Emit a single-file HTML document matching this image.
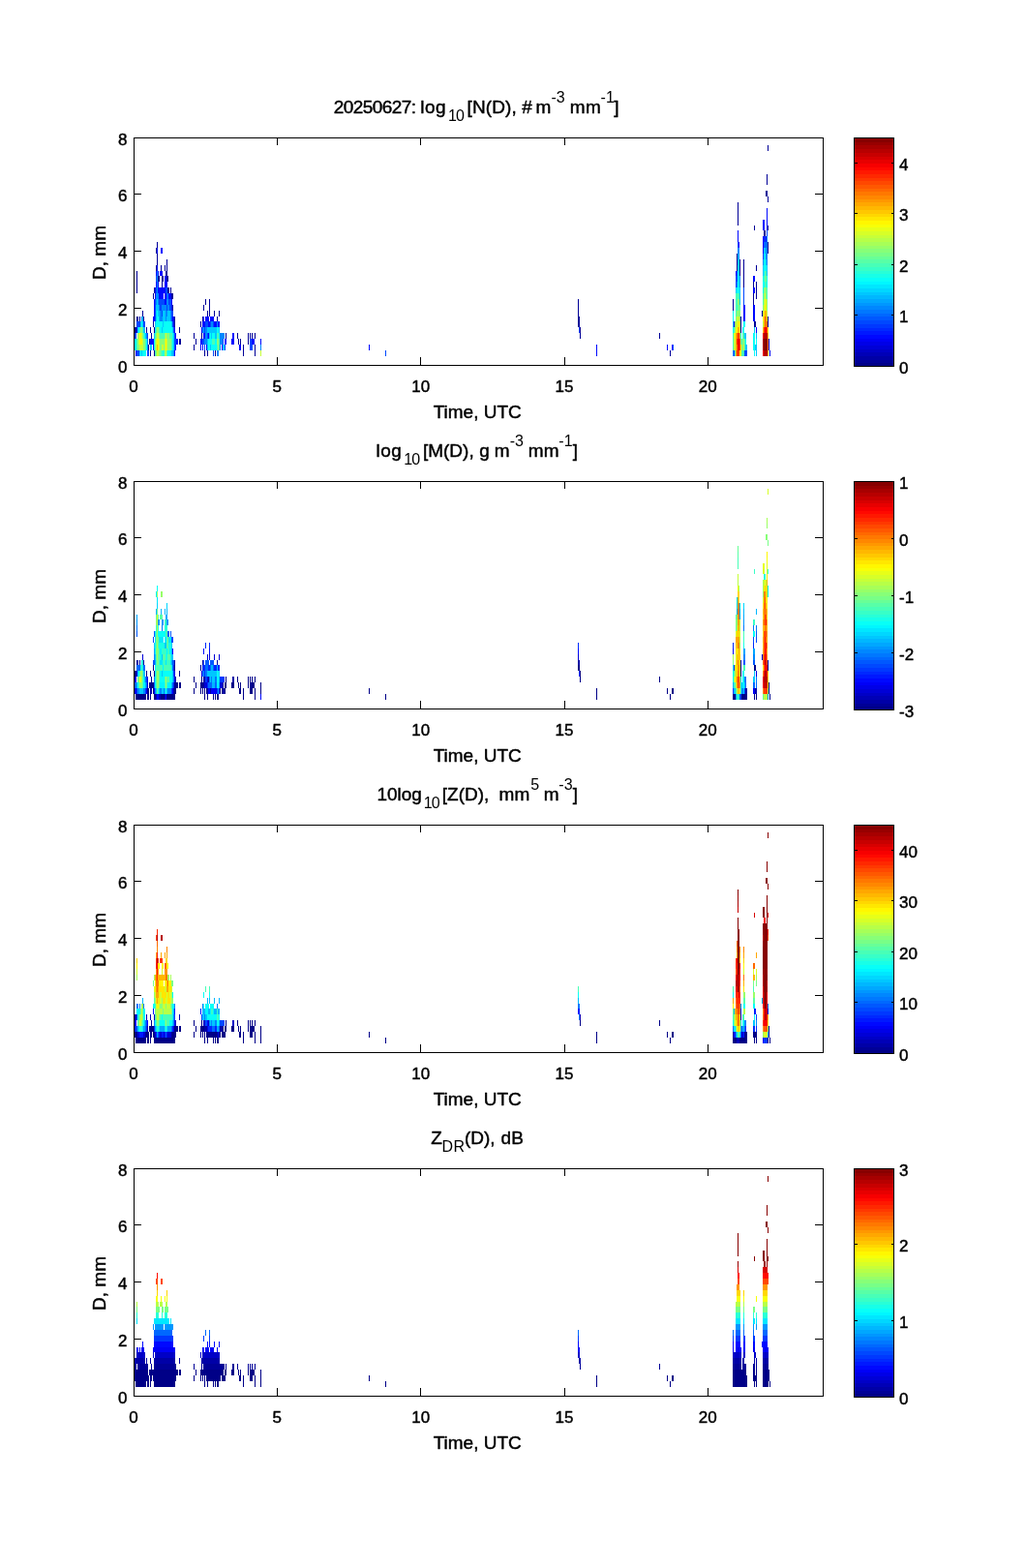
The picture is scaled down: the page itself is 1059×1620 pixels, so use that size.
<!DOCTYPE html>
<html lang="en"><head><meta charset="utf-8"><title>20250627 DSD</title>
<style>
html,body{margin:0;padding:0;background:#fff}
body{width:1059px;height:1620px;overflow:hidden}
svg{display:block}
text{font-family:"Liberation Sans", sans-serif;font-size:17px;fill:#000;stroke:#000;stroke-width:0.45px;stroke-linejoin:round}
.l{font-size:19px}
.s{font-size:16px;stroke-width:0}
.ax{fill:none;stroke:#000;stroke-width:1;shape-rendering:crispEdges}
.d{shape-rendering:crispEdges}
</style></head><body>
<svg width="1059" height="1620" viewBox="0 0 1059 1620">
<rect width="1059" height="1620" fill="#fff"/>
<g id="panel1">
<path class="d" fill="#000097" d="M139 338h1v6h-1zM140 338h1v6h-1zM141 327h1v5h-1zM141 280h1v23h-1zM142 327h1v5h-1zM144 327h1v5h-1zM147 321h1v6h-1zM148 327h1v5h-1zM151 338h1v6h-1zM153 356h1v6h-1zM154 350h1v6h-1zM155 362h1v6h-1zM155 338h1v6h-1zM156 344h1v6h-1zM158 332h1v6h-1zM158 303h1v6h-1zM159 362h1v6h-1zM159 338h1v6h-1zM159 297h1v6h-1zM161 274h1v6h-1zM161 256h1v6h-1zM162 262h1v12h-1zM162 250h1v6h-1zM163 285h1v6h-1zM164 285h1v6h-1zM166 274h1v6h-1zM167 285h1v12h-1zM168 285h1v6h-1zM170 274h1v6h-1zM171 280h1v5h-1zM172 268h1v23h-1zM173 297h1v6h-1zM173 285h1v6h-1zM174 297h1v6h-1zM176 297h1v6h-1zM177 303h1v6h-1zM178 315h1v6h-1zM178 303h1v6h-1zM180 327h1v11h-1zM185 350h1v6h-1zM185 338h1v6h-1zM186 350h1v6h-1zM200 356h1v6h-1zM200 344h1v6h-1zM202 350h1v6h-1zM207 332h1v6h-1zM208 344h1v6h-1zM209 327h1v5h-1zM210 315h1v6h-1zM211 362h1v6h-1zM212 309h1v6h-1zM214 362h1v6h-1zM214 321h1v6h-1zM216 309h1v18h-1zM221 321h1v6h-1zM222 362h1v6h-1zM224 327h1v5h-1zM226 321h1v6h-1zM233 344h1v6h-1zM245 344h1v6h-1zM246 350h1v6h-1zM248 350h1v6h-1zM251 356h1v12h-1zM256 344h1v12h-1zM258 344h1v6h-1zM260 344h1v6h-1zM263 356h1v12h-1zM263 344h1v6h-1zM597 309h1v29h-1zM598 327h1v11h-1zM599 338h1v12h-1zM681 344h1v6h-1zM692 362h1v6h-1zM757 309h1v12h-1zM761 262h1v18h-1zM762 209h1v24h-1zM764 268h1v17h-1zM765 327h1v17h-1zM768 268h1v29h-1zM778 303h1v12h-1zM778 291h1v6h-1zM779 332h1v6h-1zM779 233h1v5h-1zM780 332h1v6h-1zM781 291h1v18h-1zM781 274h1v6h-1zM787 321h1v6h-1zM789 238h1v6h-1zM790 238h1v6h-1zM791 197h1v6h-1zM792 197h1v6h-1zM792 180h1v11h-1zM793 327h1v11h-1zM793 250h1v12h-1zM793 233h1v5h-1zM793 203h1v6h-1zM793 150h1v6h-1z"/>
<path class="d" fill="#0008ff" d="M140 362h1v6h-1zM141 338h1v6h-1zM155 350h1v6h-1zM156 350h1v6h-1zM157 350h1v6h-1zM158 350h1v12h-1zM158 327h1v5h-1zM159 309h1v23h-1zM160 297h1v12h-1zM161 291h1v6h-1zM161 280h1v5h-1zM162 274h1v6h-1zM162 256h1v6h-1zM163 291h1v12h-1zM163 280h1v5h-1zM164 297h1v12h-1zM165 297h1v12h-1zM165 280h1v5h-1zM166 297h1v12h-1zM166 280h1v5h-1zM166 256h1v6h-1zM167 297h1v12h-1zM167 280h1v5h-1zM167 256h1v6h-1zM168 297h1v12h-1zM169 297h1v6h-1zM170 285h1v30h-1zM171 303h1v12h-1zM171 285h1v12h-1zM172 291h1v6h-1zM174 303h1v6h-1zM175 303h1v6h-1zM176 303h1v6h-1zM177 309h1v12h-1zM178 327h1v5h-1zM179 327h1v11h-1zM180 362h1v6h-1zM180 338h1v6h-1zM181 356h1v6h-1zM181 344h1v6h-1zM182 350h1v6h-1zM183 350h1v6h-1zM207 350h1v12h-1zM208 350h1v6h-1zM208 338h1v6h-1zM209 356h1v6h-1zM209 332h1v6h-1zM210 344h1v6h-1zM210 327h1v11h-1zM211 344h1v6h-1zM211 332h1v6h-1zM212 327h1v5h-1zM213 356h1v6h-1zM213 327h1v5h-1zM214 327h1v5h-1zM215 344h1v6h-1zM215 327h1v11h-1zM216 332h1v6h-1zM217 327h1v5h-1zM218 327h1v5h-1zM219 327h1v5h-1zM220 327h1v5h-1zM221 332h1v6h-1zM222 332h1v6h-1zM223 332h1v6h-1zM225 332h1v6h-1zM226 332h1v6h-1zM229 356h1v6h-1zM232 350h1v6h-1zM233 350h1v6h-1zM239 350h1v6h-1zM240 344h1v12h-1zM241 344h1v12h-1zM247 356h1v6h-1zM248 356h1v6h-1zM260 350h1v6h-1zM261 350h1v6h-1zM262 350h1v6h-1zM269 350h1v6h-1zM381 356h1v6h-1zM616 356h1v12h-1zM689 356h1v6h-1zM694 356h1v6h-1zM758 332h1v6h-1zM760 280h1v5h-1zM762 238h1v12h-1zM763 250h1v6h-1zM768 315h1v17h-1zM769 315h1v17h-1zM778 315h1v17h-1zM778 297h1v6h-1zM778 285h1v6h-1zM779 315h1v17h-1zM779 297h1v6h-1zM779 285h1v6h-1zM781 338h1v6h-1zM788 244h1v18h-1zM788 227h1v11h-1zM789 244h1v6h-1zM789 227h1v11h-1zM791 244h1v6h-1zM792 215h1v23h-1zM794 350h1v12h-1zM795 362h1v6h-1z"/>
<path class="d" fill="#0048ff" d="M139 344h1v6h-1zM140 344h1v6h-1zM141 362h1v6h-1zM141 332h1v6h-1zM142 362h1v6h-1zM142 332h1v6h-1zM143 362h1v6h-1zM143 332h1v6h-1zM144 332h1v6h-1zM148 332h1v6h-1zM149 332h1v6h-1zM152 362h1v6h-1zM152 344h1v6h-1zM153 362h1v6h-1zM160 309h1v23h-1zM161 297h1v6h-1zM161 285h1v6h-1zM164 309h1v6h-1zM165 309h1v12h-1zM166 309h1v12h-1zM167 321h1v6h-1zM167 309h1v6h-1zM168 309h1v6h-1zM169 309h1v6h-1zM171 297h1v6h-1zM172 315h1v6h-1zM172 297h1v12h-1zM174 309h1v6h-1zM175 309h1v12h-1zM176 309h1v12h-1zM177 321h1v11h-1zM178 332h1v6h-1zM178 321h1v6h-1zM179 338h1v6h-1zM180 344h1v18h-1zM181 350h1v6h-1zM209 350h1v6h-1zM210 350h1v6h-1zM211 356h1v6h-1zM211 338h1v6h-1zM212 332h1v6h-1zM213 332h1v6h-1zM214 344h1v6h-1zM214 332h1v6h-1zM217 332h1v6h-1zM220 362h1v6h-1zM220 332h1v6h-1zM230 350h1v6h-1zM232 356h1v6h-1zM258 350h1v12h-1zM259 350h1v12h-1zM260 356h1v6h-1zM398 362h1v6h-1zM598 338h1v6h-1zM695 356h1v6h-1zM758 362h1v6h-1zM760 285h1v12h-1zM761 280h1v11h-1zM762 250h1v6h-1zM768 297h1v18h-1zM769 362h1v6h-1zM770 362h1v6h-1zM771 362h1v6h-1zM788 262h1v6h-1zM789 250h1v6h-1zM790 244h1v6h-1zM791 250h1v6h-1zM792 238h1v6h-1z"/>
<path class="d" fill="#0087ff" d="M146 327h1v5h-1zM151 344h1v6h-1zM152 350h1v12h-1zM161 303h1v12h-1zM162 280h1v29h-1zM163 303h1v12h-1zM164 315h1v6h-1zM165 321h1v11h-1zM166 321h1v11h-1zM167 327h1v5h-1zM167 315h1v6h-1zM168 315h1v6h-1zM169 315h1v6h-1zM170 315h1v6h-1zM171 315h1v17h-1zM172 321h1v6h-1zM172 309h1v6h-1zM173 303h1v18h-1zM174 315h1v6h-1zM176 321h1v11h-1zM179 362h1v6h-1zM209 338h1v6h-1zM210 338h1v6h-1zM211 350h1v6h-1zM212 338h1v18h-1zM213 338h1v18h-1zM218 332h1v6h-1zM219 332h1v6h-1zM224 362h1v6h-1zM224 332h1v6h-1zM225 362h1v6h-1zM227 344h1v18h-1zM228 344h1v12h-1zM229 344h1v12h-1zM230 344h1v6h-1zM231 344h1v6h-1zM269 356h1v6h-1zM757 362h1v6h-1zM761 291h1v6h-1zM762 256h1v6h-1zM763 256h1v12h-1zM764 285h1v12h-1zM788 268h1v6h-1zM790 250h1v6h-1zM791 256h1v12h-1zM792 244h1v30h-1z"/>
<path class="d" fill="#00c7ff" d="M142 338h1v6h-1zM144 362h1v6h-1zM145 332h1v6h-1zM146 362h1v6h-1zM147 327h1v11h-1zM148 338h1v6h-1zM149 338h1v6h-1zM150 344h1v6h-1zM155 356h1v6h-1zM156 356h1v6h-1zM159 344h1v6h-1zM160 332h1v6h-1zM161 315h1v17h-1zM162 309h1v12h-1zM163 315h1v12h-1zM164 321h1v11h-1zM167 338h1v6h-1zM168 321h1v17h-1zM169 321h1v11h-1zM170 321h1v11h-1zM172 327h1v5h-1zM173 321h1v11h-1zM174 321h1v11h-1zM175 321h1v11h-1zM177 362h1v6h-1zM177 332h1v6h-1zM178 362h1v6h-1zM178 338h1v6h-1zM179 344h1v18h-1zM214 350h1v12h-1zM214 338h1v6h-1zM215 338h1v6h-1zM216 338h1v12h-1zM217 356h1v6h-1zM217 338h1v6h-1zM218 338h1v12h-1zM219 338h1v6h-1zM220 338h1v6h-1zM221 338h1v6h-1zM222 338h1v12h-1zM223 338h1v12h-1zM226 338h1v6h-1zM230 356h1v6h-1zM231 356h1v6h-1zM757 332h1v6h-1zM760 297h1v6h-1zM762 262h1v12h-1zM764 297h1v18h-1zM769 344h1v6h-1zM770 356h1v6h-1zM770 344h1v6h-1zM771 356h1v6h-1zM779 338h1v6h-1zM780 356h1v6h-1zM781 356h1v12h-1zM781 344h1v6h-1zM788 274h1v11h-1zM789 256h1v12h-1zM790 256h1v6h-1zM791 268h1v6h-1zM792 274h1v11h-1z"/>
<path class="d" fill="#08fff7" d="M139 350h1v12h-1zM140 350h1v12h-1zM143 338h1v6h-1zM145 362h1v6h-1zM146 332h1v6h-1zM147 362h1v6h-1zM148 362h1v6h-1zM149 362h1v6h-1zM149 344h1v6h-1zM150 362h1v6h-1zM151 350h1v12h-1zM159 350h1v12h-1zM160 338h1v6h-1zM161 332h1v6h-1zM162 321h1v17h-1zM163 327h1v11h-1zM164 332h1v6h-1zM165 332h1v12h-1zM166 332h1v12h-1zM167 332h1v6h-1zM168 362h1v6h-1zM168 338h1v6h-1zM169 332h1v12h-1zM170 332h1v12h-1zM171 332h1v12h-1zM172 332h1v12h-1zM173 362h1v6h-1zM173 332h1v12h-1zM174 362h1v6h-1zM174 332h1v12h-1zM175 362h1v6h-1zM175 332h1v12h-1zM176 362h1v6h-1zM176 332h1v12h-1zM177 338h1v6h-1zM178 344h1v18h-1zM215 350h1v12h-1zM216 350h1v12h-1zM217 344h1v12h-1zM218 350h1v12h-1zM219 356h1v6h-1zM219 344h1v6h-1zM220 356h1v6h-1zM220 344h1v6h-1zM221 356h1v6h-1zM221 344h1v6h-1zM222 350h1v12h-1zM223 350h1v12h-1zM224 338h1v6h-1zM225 338h1v6h-1zM226 344h1v6h-1zM757 338h1v6h-1zM757 321h1v11h-1zM761 297h1v6h-1zM762 274h1v29h-1zM763 268h1v35h-1zM765 344h1v6h-1zM767 338h1v6h-1zM768 332h1v12h-1zM769 332h1v6h-1zM770 350h1v6h-1zM778 344h1v18h-1zM779 344h1v24h-1zM781 350h1v6h-1zM788 285h1v18h-1zM789 291h1v6h-1zM789 268h1v17h-1zM790 262h1v18h-1zM791 274h1v6h-1zM792 285h1v12h-1z"/>
<path class="d" fill="#48ffb7" d="M141 350h1v12h-1zM144 338h1v6h-1zM147 338h1v6h-1zM148 344h1v6h-1zM150 350h1v12h-1zM160 362h1v6h-1zM160 344h1v6h-1zM161 338h1v6h-1zM164 338h1v6h-1zM165 344h1v6h-1zM166 362h1v6h-1zM166 344h1v6h-1zM167 362h1v6h-1zM167 344h1v6h-1zM168 344h1v6h-1zM169 362h1v6h-1zM169 344h1v6h-1zM172 362h1v6h-1zM175 344h1v6h-1zM176 344h1v6h-1zM177 344h1v18h-1zM219 350h1v6h-1zM220 350h1v6h-1zM221 350h1v6h-1zM224 356h1v6h-1zM224 344h1v6h-1zM225 344h1v6h-1zM226 350h1v12h-1zM757 344h1v18h-1zM758 338h1v6h-1zM759 362h1v6h-1zM760 303h1v24h-1zM761 303h1v18h-1zM762 315h1v6h-1zM762 303h1v6h-1zM763 303h1v6h-1zM764 315h1v6h-1zM766 362h1v6h-1zM766 350h1v6h-1zM767 362h1v6h-1zM767 344h1v6h-1zM768 362h1v6h-1zM768 344h1v6h-1zM769 350h1v12h-1zM788 303h1v12h-1zM789 285h1v6h-1zM790 280h1v17h-1zM791 291h1v6h-1zM791 280h1v5h-1zM792 297h1v12h-1z"/>
<path class="d" fill="#870000" d="M789 350h1v12h-1zM790 350h1v12h-1zM791 350h1v12h-1zM792 350h1v12h-1z"/>
<path class="d" fill="#87ff78" d="M142 344h1v18h-1zM143 356h1v6h-1zM145 338h1v6h-1zM146 338h1v6h-1zM147 344h1v6h-1zM148 350h1v12h-1zM149 350h1v12h-1zM160 350h1v12h-1zM161 362h1v6h-1zM161 344h1v6h-1zM162 338h1v6h-1zM163 338h1v6h-1zM164 362h1v6h-1zM164 344h1v6h-1zM165 350h1v18h-1zM166 350h1v12h-1zM167 350h1v6h-1zM168 350h1v6h-1zM169 350h1v12h-1zM170 362h1v6h-1zM170 344h1v6h-1zM172 344h1v6h-1zM173 344h1v18h-1zM174 344h1v18h-1zM175 350h1v12h-1zM176 350h1v12h-1zM224 350h1v6h-1zM225 350h1v12h-1zM759 332h1v12h-1zM760 327h1v5h-1zM761 321h1v6h-1zM762 321h1v6h-1zM762 309h1v6h-1zM763 309h1v18h-1zM764 321h1v11h-1zM765 350h1v6h-1zM766 356h1v6h-1zM767 350h1v12h-1zM768 350h1v6h-1zM788 315h1v6h-1zM789 297h1v12h-1zM790 297h1v6h-1zM791 297h1v12h-1zM791 285h1v6h-1zM792 309h1v12h-1z"/>
<path class="d" fill="#b70000" d="M788 350h1v12h-1zM789 362h1v6h-1zM789 344h1v6h-1zM790 362h1v6h-1zM790 344h1v6h-1zM791 362h1v6h-1zM791 344h1v6h-1zM792 362h1v6h-1zM792 344h1v6h-1z"/>
<path class="d" fill="#c7ff38" d="M143 344h1v12h-1zM144 356h1v6h-1zM145 356h1v6h-1zM146 356h1v6h-1zM146 344h1v6h-1zM147 350h1v12h-1zM161 350h1v12h-1zM162 362h1v6h-1zM162 344h1v6h-1zM163 362h1v6h-1zM163 344h1v6h-1zM164 350h1v12h-1zM167 356h1v6h-1zM168 356h1v6h-1zM170 350h1v12h-1zM171 362h1v6h-1zM171 344h1v6h-1zM172 350h1v12h-1zM269 362h1v6h-1zM758 344h1v18h-1zM759 350h1v12h-1zM760 332h1v6h-1zM761 327h1v11h-1zM762 327h1v5h-1zM763 327h1v5h-1zM764 332h1v12h-1zM768 356h1v6h-1zM788 332h1v6h-1zM788 321h1v6h-1zM789 309h1v12h-1zM790 303h1v12h-1zM792 321h1v6h-1z"/>
<path class="d" fill="#f70000" d="M762 350h1v12h-1zM763 350h1v12h-1zM788 362h1v6h-1zM788 344h1v6h-1zM790 338h1v6h-1zM791 338h1v6h-1z"/>
<path class="d" fill="#ff3800" d="M761 362h1v6h-1zM761 350h1v6h-1zM762 362h1v6h-1zM762 344h1v6h-1zM763 362h1v6h-1zM763 344h1v6h-1zM764 350h1v12h-1zM789 338h1v6h-1zM792 338h1v6h-1z"/>
<path class="d" fill="#ff7800" d="M761 356h1v6h-1zM761 344h1v6h-1zM790 327h1v11h-1zM791 327h1v11h-1zM792 332h1v6h-1zM793 350h1v12h-1z"/>
<path class="d" fill="#ffb700" d="M162 356h1v6h-1zM760 344h1v24h-1zM762 338h1v6h-1zM763 338h1v6h-1zM764 344h1v6h-1zM788 338h1v6h-1zM789 327h1v11h-1zM790 321h1v6h-1zM791 321h1v6h-1zM793 362h1v6h-1zM793 344h1v6h-1z"/>
<path class="d" fill="#fff700" d="M144 344h1v12h-1zM145 344h1v12h-1zM146 350h1v6h-1zM162 350h1v6h-1zM163 350h1v12h-1zM171 350h1v12h-1zM759 344h1v6h-1zM760 338h1v6h-1zM761 338h1v6h-1zM762 332h1v6h-1zM763 332h1v6h-1zM764 362h1v6h-1zM765 356h1v12h-1zM788 327h1v5h-1zM789 321h1v6h-1zM790 315h1v6h-1zM791 309h1v12h-1zM792 327h1v5h-1zM793 338h1v6h-1z"/>
<rect class="ax" x="138.5" y="142.5" width="712" height="235"/>
<path class="ax" d="M286.5 377.5V369M286.5 142.5V150M434.5 377.5V369M434.5 142.5V150M583.5 377.5V369M583.5 142.5V150M731.5 377.5V369M731.5 142.5V150M138.5 318.5H146M850.5 318.5H842M138.5 259.5H146M850.5 259.5H842M138.5 200.5H146M850.5 200.5H842"/>
<text x="138" y="404.8" text-anchor="middle">0</text><text x="286.333" y="404.8" text-anchor="middle">5</text><text x="434.667" y="404.8" text-anchor="middle">10</text><text x="583" y="404.8" text-anchor="middle">15</text><text x="731.333" y="404.8" text-anchor="middle">20</text>
<text x="131.5" y="385.4" text-anchor="end">0</text><text x="131.5" y="326.4" text-anchor="end">2</text><text x="131.5" y="267.4" text-anchor="end">4</text><text x="131.5" y="208.4" text-anchor="end">6</text><text x="131.5" y="150.4" text-anchor="end">8</text>
<text class="l" x="493.2" y="431.5" text-anchor="middle">Time, UTC</text>
<text class="l" transform="translate(109 261) rotate(-90)" text-anchor="middle">D, mm</text>
<text class="l"><tspan class="l" x="344.70" y="116.90" letter-spacing="-0.56">20250627:</tspan><tspan class="l" x="434.25" y="116.90" letter-spacing="0.5">log</tspan><tspan class="s" x="462.95" y="125.30" letter-spacing="-0.9">10</tspan><tspan class="l" x="482.55" y="116.90" letter-spacing="0.1">[N(D),</tspan><tspan class="l" x="539.20" y="116.90">#</tspan><tspan class="l" x="553.55" y="116.90">m</tspan><tspan class="s" x="569.45" y="105.60">-3</tspan><tspan class="l" x="588.75" y="116.90" letter-spacing="0.3">mm</tspan><tspan class="s" x="620.55" y="105.60">-1</tspan><tspan class="l" x="634.15" y="116.90">]</tspan></text>
<rect class="d" x="882.5" y="374.81" width="41" height="4.29" fill="#000087"/><rect class="d" x="882.5" y="371.12" width="41" height="4.29" fill="#000097"/><rect class="d" x="882.5" y="367.44" width="41" height="4.29" fill="#0000a7"/><rect class="d" x="882.5" y="363.75" width="41" height="4.29" fill="#0000b7"/><rect class="d" x="882.5" y="360.06" width="41" height="4.29" fill="#0000c7"/><rect class="d" x="882.5" y="356.38" width="41" height="4.29" fill="#0000d7"/><rect class="d" x="882.5" y="352.69" width="41" height="4.29" fill="#0000e7"/><rect class="d" x="882.5" y="349.00" width="41" height="4.29" fill="#0000f7"/><rect class="d" x="882.5" y="345.31" width="41" height="4.29" fill="#0008ff"/><rect class="d" x="882.5" y="341.62" width="41" height="4.29" fill="#0018ff"/><rect class="d" x="882.5" y="337.94" width="41" height="4.29" fill="#0028ff"/><rect class="d" x="882.5" y="334.25" width="41" height="4.29" fill="#0038ff"/><rect class="d" x="882.5" y="330.56" width="41" height="4.29" fill="#0048ff"/><rect class="d" x="882.5" y="326.88" width="41" height="4.29" fill="#0058ff"/><rect class="d" x="882.5" y="323.19" width="41" height="4.29" fill="#0068ff"/><rect class="d" x="882.5" y="319.50" width="41" height="4.29" fill="#0078ff"/><rect class="d" x="882.5" y="315.81" width="41" height="4.29" fill="#0087ff"/><rect class="d" x="882.5" y="312.12" width="41" height="4.29" fill="#0097ff"/><rect class="d" x="882.5" y="308.44" width="41" height="4.29" fill="#00a7ff"/><rect class="d" x="882.5" y="304.75" width="41" height="4.29" fill="#00b7ff"/><rect class="d" x="882.5" y="301.06" width="41" height="4.29" fill="#00c7ff"/><rect class="d" x="882.5" y="297.38" width="41" height="4.29" fill="#00d7ff"/><rect class="d" x="882.5" y="293.69" width="41" height="4.29" fill="#00e7ff"/><rect class="d" x="882.5" y="290.00" width="41" height="4.29" fill="#00f7ff"/><rect class="d" x="882.5" y="286.31" width="41" height="4.29" fill="#08fff7"/><rect class="d" x="882.5" y="282.62" width="41" height="4.29" fill="#18ffe7"/><rect class="d" x="882.5" y="278.94" width="41" height="4.29" fill="#28ffd7"/><rect class="d" x="882.5" y="275.25" width="41" height="4.29" fill="#38ffc7"/><rect class="d" x="882.5" y="271.56" width="41" height="4.29" fill="#48ffb7"/><rect class="d" x="882.5" y="267.88" width="41" height="4.29" fill="#58ffa7"/><rect class="d" x="882.5" y="264.19" width="41" height="4.29" fill="#68ff97"/><rect class="d" x="882.5" y="260.50" width="41" height="4.29" fill="#78ff87"/><rect class="d" x="882.5" y="256.81" width="41" height="4.29" fill="#87ff78"/><rect class="d" x="882.5" y="253.12" width="41" height="4.29" fill="#97ff68"/><rect class="d" x="882.5" y="249.44" width="41" height="4.29" fill="#a7ff58"/><rect class="d" x="882.5" y="245.75" width="41" height="4.29" fill="#b7ff48"/><rect class="d" x="882.5" y="242.06" width="41" height="4.29" fill="#c7ff38"/><rect class="d" x="882.5" y="238.38" width="41" height="4.29" fill="#d7ff28"/><rect class="d" x="882.5" y="234.69" width="41" height="4.29" fill="#e7ff18"/><rect class="d" x="882.5" y="231.00" width="41" height="4.29" fill="#f7ff08"/><rect class="d" x="882.5" y="227.31" width="41" height="4.29" fill="#fff700"/><rect class="d" x="882.5" y="223.62" width="41" height="4.29" fill="#ffe700"/><rect class="d" x="882.5" y="219.94" width="41" height="4.29" fill="#ffd700"/><rect class="d" x="882.5" y="216.25" width="41" height="4.29" fill="#ffc700"/><rect class="d" x="882.5" y="212.56" width="41" height="4.29" fill="#ffb700"/><rect class="d" x="882.5" y="208.88" width="41" height="4.29" fill="#ffa700"/><rect class="d" x="882.5" y="205.19" width="41" height="4.29" fill="#ff9700"/><rect class="d" x="882.5" y="201.50" width="41" height="4.29" fill="#ff8700"/><rect class="d" x="882.5" y="197.81" width="41" height="4.29" fill="#ff7800"/><rect class="d" x="882.5" y="194.12" width="41" height="4.29" fill="#ff6800"/><rect class="d" x="882.5" y="190.44" width="41" height="4.29" fill="#ff5800"/><rect class="d" x="882.5" y="186.75" width="41" height="4.29" fill="#ff4800"/><rect class="d" x="882.5" y="183.06" width="41" height="4.29" fill="#ff3800"/><rect class="d" x="882.5" y="179.38" width="41" height="4.29" fill="#ff2800"/><rect class="d" x="882.5" y="175.69" width="41" height="4.29" fill="#ff1800"/><rect class="d" x="882.5" y="172.00" width="41" height="4.29" fill="#ff0800"/><rect class="d" x="882.5" y="168.31" width="41" height="4.29" fill="#f70000"/><rect class="d" x="882.5" y="164.62" width="41" height="4.29" fill="#e70000"/><rect class="d" x="882.5" y="160.94" width="41" height="4.29" fill="#d70000"/><rect class="d" x="882.5" y="157.25" width="41" height="4.29" fill="#c70000"/><rect class="d" x="882.5" y="153.56" width="41" height="4.29" fill="#b70000"/><rect class="d" x="882.5" y="149.88" width="41" height="4.29" fill="#a70000"/><rect class="d" x="882.5" y="146.19" width="41" height="4.29" fill="#970000"/><rect class="d" x="882.5" y="142.50" width="41" height="4.29" fill="#870000"/>
<rect class="ax" x="882.5" y="142.5" width="41" height="236"/>
<text x="929" y="386.3">0</text><text x="929" y="333.3">1</text><text x="929" y="281.3">2</text><text x="929" y="228.3">3</text><text x="929" y="176.3">4</text>
<path class="ax" d="M882.5 325.5h3M923.5 325.5h-3M882.5 273.5h3M923.5 273.5h-3M882.5 220.5h3M923.5 220.5h-3M882.5 168.5h3M923.5 168.5h-3"/>
</g>
<g id="panel2">
<path class="d" fill="#000087" d="M139 693h1v6h-1zM140 717h1v6h-1zM140 693h1v6h-1zM141 717h1v6h-1zM142 717h1v6h-1zM143 717h1v6h-1zM144 717h1v6h-1zM145 717h1v6h-1zM146 717h1v6h-1zM147 717h1v6h-1zM148 717h1v6h-1zM149 717h1v6h-1zM150 717h1v6h-1zM151 693h1v6h-1zM152 711h1v12h-1zM153 711h1v12h-1zM154 705h1v6h-1zM155 717h1v6h-1zM155 705h1v6h-1zM155 693h1v6h-1zM156 699h1v12h-1zM157 705h1v6h-1zM158 705h1v12h-1zM158 687h1v6h-1zM159 717h1v6h-1zM159 693h1v6h-1zM160 717h1v6h-1zM166 717h1v6h-1zM167 717h1v6h-1zM168 717h1v6h-1zM169 717h1v6h-1zM172 717h1v6h-1zM173 717h1v6h-1zM174 717h1v6h-1zM175 717h1v6h-1zM176 717h1v6h-1zM177 717h1v6h-1zM178 717h1v6h-1zM179 717h1v6h-1zM180 711h1v12h-1zM180 687h1v6h-1zM181 711h1v6h-1zM182 705h1v6h-1zM183 705h1v6h-1zM185 705h1v6h-1zM185 693h1v6h-1zM186 705h1v6h-1zM200 711h1v6h-1zM200 699h1v6h-1zM202 705h1v6h-1zM207 705h1v12h-1zM207 687h1v6h-1zM208 699h1v12h-1zM209 711h1v6h-1zM211 711h1v12h-1zM213 711h1v6h-1zM214 717h1v6h-1zM220 717h1v6h-1zM222 717h1v6h-1zM224 717h1v6h-1zM225 717h1v6h-1zM227 711h1v6h-1zM229 711h1v6h-1zM232 705h1v12h-1zM233 699h1v12h-1zM239 705h1v6h-1zM240 705h1v6h-1zM241 705h1v6h-1zM245 699h1v6h-1zM246 705h1v6h-1zM247 711h1v6h-1zM248 705h1v12h-1zM251 711h1v12h-1zM256 699h1v12h-1zM258 711h1v6h-1zM258 699h1v6h-1zM259 711h1v6h-1zM260 699h1v18h-1zM261 705h1v6h-1zM262 705h1v6h-1zM263 711h1v12h-1zM263 699h1v6h-1zM269 705h1v12h-1zM381 711h1v6h-1zM398 717h1v6h-1zM597 687h1v6h-1zM598 687h1v6h-1zM599 693h1v12h-1zM616 711h1v12h-1zM681 699h1v6h-1zM689 711h1v6h-1zM692 717h1v6h-1zM694 711h1v6h-1zM695 711h1v6h-1zM757 717h1v6h-1zM758 717h1v6h-1zM759 717h1v6h-1zM765 687h1v12h-1zM766 717h1v6h-1zM767 717h1v6h-1zM768 717h1v6h-1zM769 717h1v6h-1zM770 717h1v6h-1zM771 717h1v6h-1zM779 717h1v6h-1zM779 687h1v6h-1zM780 687h1v6h-1zM781 717h1v6h-1zM793 687h1v6h-1zM794 705h1v12h-1zM795 717h1v6h-1z"/>
<path class="d" fill="#000097" d="M180 705h1v6h-1zM181 705h1v6h-1zM209 705h1v6h-1zM210 705h1v6h-1zM230 705h1v6h-1zM258 705h1v6h-1zM259 705h1v6h-1z"/>
<path class="d" fill="#0000a7" d="M141 682h1v5h-1zM142 682h1v5h-1zM144 682h1v5h-1zM148 682h1v5h-1zM155 711h1v6h-1zM156 711h1v6h-1zM179 711h1v6h-1zM180 682h1v5h-1zM181 699h1v6h-1zM209 682h1v5h-1zM210 699h1v6h-1zM211 699h1v6h-1zM214 711h1v6h-1zM215 699h1v6h-1zM217 711h1v6h-1zM224 682h1v5h-1zM230 711h1v6h-1zM231 711h1v6h-1zM240 699h1v6h-1zM241 699h1v6h-1zM597 682h1v5h-1zM598 682h1v5h-1zM765 682h1v5h-1zM770 711h1v6h-1zM771 711h1v6h-1zM780 711h1v6h-1zM781 711h1v6h-1zM793 682h1v5h-1z"/>
<path class="d" fill="#0000b7" d="M161 717h1v6h-1zM164 717h1v6h-1zM165 717h1v6h-1zM170 717h1v6h-1z"/>
<path class="d" fill="#0000d7" d="M147 676h1v6h-1zM152 705h1v6h-1zM211 705h1v6h-1zM212 705h1v6h-1zM213 705h1v6h-1zM214 676h1v6h-1zM216 676h1v6h-1zM221 676h1v6h-1zM226 676h1v6h-1zM227 705h1v6h-1zM228 705h1v6h-1zM229 705h1v6h-1zM597 676h1v6h-1zM787 676h1v6h-1z"/>
<path class="d" fill="#0000e7" d="M139 699h1v6h-1zM140 699h1v6h-1zM141 693h1v6h-1zM152 699h1v6h-1zM180 693h1v12h-1zM208 693h1v6h-1zM214 699h1v6h-1zM781 693h1v6h-1z"/>
<path class="d" fill="#0000f7" d="M139 711h1v6h-1zM140 711h1v6h-1zM151 711h1v6h-1zM159 711h1v6h-1zM178 711h1v6h-1zM215 711h1v6h-1zM216 711h1v6h-1zM218 711h1v6h-1zM219 711h1v6h-1zM220 711h1v6h-1zM221 711h1v6h-1zM222 711h1v6h-1zM223 711h1v6h-1zM778 711h1v6h-1zM779 711h1v6h-1z"/>
<path class="d" fill="#0008ff" d="M162 717h1v6h-1zM163 717h1v6h-1zM171 717h1v6h-1zM178 670h1v6h-1zM210 670h1v6h-1zM216 670h1v6h-1zM269 717h1v6h-1zM597 670h1v6h-1zM757 670h1v6h-1z"/>
<path class="d" fill="#0028ff" d="M179 705h1v6h-1zM179 687h1v6h-1zM209 687h1v6h-1zM210 687h1v6h-1zM211 687h1v6h-1zM212 664h1v6h-1zM214 705h1v6h-1zM215 687h1v6h-1zM216 687h1v6h-1zM216 664h1v6h-1zM221 687h1v6h-1zM222 687h1v6h-1zM223 687h1v6h-1zM225 687h1v6h-1zM226 687h1v6h-1zM597 664h1v6h-1zM757 664h1v6h-1zM758 687h1v6h-1zM778 664h1v6h-1z"/>
<path class="d" fill="#0038ff" d="M141 711h1v6h-1zM150 711h1v6h-1zM151 699h1v6h-1zM177 711h1v6h-1zM179 693h1v6h-1zM211 693h1v6h-1zM212 699h1v6h-1zM213 699h1v6h-1zM224 711h1v6h-1zM226 711h1v6h-1zM227 699h1v6h-1zM228 699h1v6h-1zM229 699h1v6h-1zM230 699h1v6h-1zM231 699h1v6h-1zM598 693h1v6h-1zM757 711h1v6h-1zM769 711h1v6h-1z"/>
<path class="d" fill="#0048ff" d="M158 658h1v6h-1zM177 658h1v6h-1zM178 658h1v6h-1zM764 717h1v6h-1zM765 717h1v6h-1zM778 658h1v6h-1zM781 658h1v6h-1z"/>
<path class="d" fill="#0058ff" d="M141 652h1v6h-1zM158 682h1v5h-1zM159 682h1v5h-1zM159 652h1v6h-1zM173 652h1v6h-1zM174 652h1v6h-1zM176 652h1v6h-1zM178 682h1v5h-1zM179 682h1v5h-1zM210 682h1v5h-1zM212 682h1v5h-1zM213 682h1v5h-1zM214 682h1v5h-1zM215 682h1v5h-1zM217 682h1v5h-1zM218 682h1v5h-1zM219 682h1v5h-1zM220 682h1v5h-1zM768 682h1v5h-1zM769 682h1v5h-1zM778 682h1v5h-1zM779 682h1v5h-1zM781 652h1v6h-1z"/>
<path class="d" fill="#0068ff" d="M139 705h1v6h-1zM140 705h1v6h-1zM141 687h1v6h-1zM142 687h1v6h-1zM143 687h1v6h-1zM144 687h1v6h-1zM148 687h1v6h-1zM149 687h1v6h-1zM151 705h1v6h-1zM159 705h1v6h-1zM178 705h1v6h-1zM178 687h1v6h-1zM212 687h1v6h-1zM213 687h1v6h-1zM214 687h1v6h-1zM215 705h1v6h-1zM216 705h1v6h-1zM217 705h1v6h-1zM217 687h1v6h-1zM218 705h1v6h-1zM220 687h1v6h-1zM222 705h1v6h-1zM223 705h1v6h-1zM770 705h1v6h-1zM778 705h1v6h-1zM779 705h1v6h-1zM781 705h1v6h-1z"/>
<path class="d" fill="#0078ff" d="M141 646h1v6h-1zM150 699h1v6h-1zM159 699h1v6h-1zM167 646h1v6h-1zM179 699h1v6h-1zM209 693h1v6h-1zM210 693h1v6h-1zM212 693h1v6h-1zM213 693h1v6h-1zM216 699h1v6h-1zM218 699h1v6h-1zM222 699h1v6h-1zM223 699h1v6h-1zM768 646h1v6h-1zM769 699h1v6h-1zM770 699h1v6h-1zM778 646h1v6h-1zM781 699h1v6h-1zM781 646h1v6h-1z"/>
<path class="d" fill="#0087ff" d="M142 711h1v6h-1zM143 711h1v6h-1zM148 711h1v6h-1zM149 711h1v6h-1zM159 676h1v6h-1zM160 711h1v6h-1zM165 711h1v6h-1zM166 711h1v6h-1zM169 711h1v6h-1zM173 711h1v6h-1zM174 711h1v6h-1zM175 711h1v6h-1zM176 711h1v6h-1zM225 711h1v6h-1zM766 711h1v6h-1zM767 711h1v6h-1zM768 676h1v6h-1zM769 676h1v6h-1zM778 676h1v6h-1zM779 676h1v6h-1z"/>
<path class="d" fill="#0097ff" d="M141 640h1v6h-1zM163 640h1v6h-1zM164 640h1v6h-1zM167 640h1v6h-1zM168 640h1v6h-1zM172 640h1v6h-1zM173 640h1v6h-1zM760 717h1v6h-1zM768 640h1v6h-1zM793 717h1v6h-1z"/>
<path class="d" fill="#00a7ff" d="M141 635h1v5h-1zM159 670h1v6h-1zM160 682h1v5h-1zM171 635h1v5h-1zM172 635h1v5h-1zM177 682h1v5h-1zM177 670h1v6h-1zM764 635h1v5h-1zM768 670h1v6h-1zM768 635h1v5h-1zM769 670h1v6h-1zM778 670h1v6h-1zM779 670h1v6h-1z"/>
<path class="d" fill="#00b7ff" d="M141 705h1v6h-1zM150 705h1v6h-1zM161 629h1v6h-1zM166 629h1v6h-1zM170 629h1v6h-1zM172 629h1v6h-1zM177 705h1v6h-1zM218 687h1v6h-1zM219 705h1v6h-1zM219 687h1v6h-1zM220 705h1v6h-1zM221 705h1v6h-1zM224 687h1v6h-1zM226 705h1v6h-1zM757 705h1v6h-1zM761 629h1v6h-1zM764 629h1v6h-1zM766 705h1v6h-1zM768 629h1v6h-1zM769 705h1v6h-1zM781 629h1v6h-1z"/>
<path class="d" fill="#00c7ff" d="M142 693h1v6h-1zM144 711h1v6h-1zM145 711h1v6h-1zM146 711h1v6h-1zM147 711h1v6h-1zM148 693h1v6h-1zM149 693h1v12h-1zM159 664h1v6h-1zM160 676h1v6h-1zM161 711h1v6h-1zM164 711h1v6h-1zM167 711h1v6h-1zM167 693h1v6h-1zM167 676h1v6h-1zM168 711h1v6h-1zM170 711h1v6h-1zM170 664h1v6h-1zM171 664h1v6h-1zM172 711h1v6h-1zM177 676h1v6h-1zM177 664h1v6h-1zM178 693h1v12h-1zM178 676h1v6h-1zM214 693h1v6h-1zM215 693h1v6h-1zM216 693h1v6h-1zM217 693h1v12h-1zM218 693h1v6h-1zM219 693h1v12h-1zM220 693h1v12h-1zM221 693h1v12h-1zM222 693h1v6h-1zM223 693h1v6h-1zM226 693h1v12h-1zM758 711h1v6h-1zM759 711h1v6h-1zM765 699h1v6h-1zM768 711h1v6h-1zM778 699h1v6h-1zM779 693h1v12h-1z"/>
<path class="d" fill="#00d7ff" d="M162 623h1v6h-1zM172 623h1v6h-1zM761 623h1v6h-1zM764 623h1v6h-1zM768 623h1v6h-1z"/>
<path class="d" fill="#00e7ff" d="M146 682h1v5h-1zM160 658h1v6h-1zM162 617h1v6h-1zM164 658h1v6h-1zM165 682h1v5h-1zM165 658h1v6h-1zM166 682h1v5h-1zM166 658h1v6h-1zM167 682h1v5h-1zM167 658h1v6h-1zM168 658h1v6h-1zM170 658h1v6h-1zM171 682h1v5h-1zM171 658h1v6h-1zM174 658h1v6h-1zM175 658h1v6h-1zM176 682h1v5h-1zM176 658h1v6h-1zM761 617h1v6h-1z"/>
<path class="d" fill="#00f7ff" d="M142 705h1v6h-1zM145 687h1v6h-1zM147 687h1v6h-1zM148 705h1v6h-1zM149 705h1v6h-1zM160 705h1v6h-1zM160 687h1v6h-1zM160 670h1v6h-1zM161 611h1v6h-1zM165 705h1v6h-1zM165 670h1v6h-1zM166 705h1v6h-1zM166 670h1v6h-1zM167 705h1v6h-1zM168 705h1v6h-1zM168 687h1v6h-1zM169 705h1v6h-1zM172 670h1v6h-1zM173 705h1v6h-1zM174 705h1v6h-1zM175 705h1v6h-1zM175 670h1v6h-1zM176 705h1v6h-1zM176 670h1v6h-1zM177 687h1v6h-1zM224 705h1v6h-1zM225 705h1v6h-1zM757 687h1v6h-1zM765 705h1v6h-1zM767 705h1v6h-1zM768 705h1v6h-1zM793 611h1v6h-1z"/>
<path class="d" fill="#08fff7" d="M143 693h1v6h-1zM148 699h1v6h-1zM160 693h1v12h-1zM160 652h1v6h-1zM162 605h1v6h-1zM163 652h1v6h-1zM164 652h1v6h-1zM165 693h1v12h-1zM165 652h1v6h-1zM166 693h1v12h-1zM166 652h1v6h-1zM167 699h1v6h-1zM167 652h1v6h-1zM168 693h1v12h-1zM168 652h1v6h-1zM169 693h1v12h-1zM169 652h1v6h-1zM170 693h1v6h-1zM170 652h1v6h-1zM171 693h1v6h-1zM172 693h1v6h-1zM173 693h1v6h-1zM174 693h1v6h-1zM175 693h1v12h-1zM176 693h1v12h-1zM177 693h1v12h-1zM224 693h1v12h-1zM225 693h1v12h-1zM757 693h1v12h-1zM767 693h1v12h-1zM768 693h1v12h-1zM778 652h1v6h-1zM779 652h1v6h-1zM793 605h1v6h-1z"/>
<path class="d" fill="#18ffe7" d="M160 664h1v6h-1zM163 711h1v6h-1zM164 664h1v6h-1zM165 676h1v6h-1zM165 664h1v6h-1zM166 676h1v6h-1zM166 664h1v6h-1zM167 664h1v6h-1zM168 664h1v6h-1zM169 664h1v6h-1zM171 711h1v6h-1zM171 676h1v6h-1zM172 676h1v6h-1zM174 664h1v6h-1zM175 664h1v6h-1zM176 676h1v6h-1zM176 664h1v6h-1zM765 711h1v6h-1zM768 664h1v6h-1z"/>
<path class="d" fill="#28ffd7" d="M161 646h1v6h-1zM163 646h1v6h-1zM170 646h1v6h-1zM171 646h1v6h-1zM172 646h1v6h-1zM761 717h1v6h-1zM762 717h1v6h-1zM763 717h1v6h-1zM789 593h1v6h-1zM790 593h1v6h-1z"/>
<path class="d" fill="#38ffc7" d="M147 682h1v5h-1zM161 682h1v5h-1zM164 682h1v5h-1zM164 670h1v6h-1zM167 670h1v6h-1zM168 682h1v5h-1zM168 670h1v6h-1zM169 682h1v5h-1zM169 670h1v6h-1zM170 682h1v5h-1zM170 670h1v6h-1zM170 640h1v6h-1zM171 670h1v6h-1zM171 640h1v6h-1zM172 682h1v5h-1zM172 658h1v6h-1zM173 682h1v5h-1zM173 670h1v6h-1zM174 682h1v5h-1zM174 670h1v6h-1zM175 682h1v5h-1zM768 658h1v6h-1zM778 640h1v6h-1zM779 640h1v6h-1zM779 588h1v5h-1zM793 588h1v5h-1z"/>
<path class="d" fill="#48ffb7" d="M143 705h1v6h-1zM146 687h1v6h-1zM147 705h1v6h-1zM161 705h1v6h-1zM161 687h1v6h-1zM161 652h1v6h-1zM162 687h1v6h-1zM163 687h1v6h-1zM164 705h1v6h-1zM164 687h1v6h-1zM165 687h1v6h-1zM166 687h1v6h-1zM167 687h1v6h-1zM169 687h1v6h-1zM170 705h1v6h-1zM170 687h1v6h-1zM171 687h1v6h-1zM171 652h1v6h-1zM172 705h1v6h-1zM172 687h1v6h-1zM172 652h1v6h-1zM173 687h1v6h-1zM174 687h1v6h-1zM175 687h1v6h-1zM176 687h1v6h-1zM758 705h1v6h-1zM759 705h1v6h-1zM762 576h1v12h-1zM768 687h1v6h-1zM768 652h1v6h-1zM769 687h1v6h-1z"/>
<path class="d" fill="#58ffa7" d="M142 699h1v6h-1zM144 693h1v6h-1zM147 693h1v12h-1zM161 693h1v12h-1zM161 676h1v6h-1zM161 664h1v6h-1zM161 635h1v5h-1zM162 711h1v6h-1zM163 676h1v6h-1zM163 664h1v6h-1zM163 635h1v5h-1zM164 693h1v12h-1zM164 676h1v6h-1zM165 635h1v5h-1zM166 635h1v5h-1zM167 635h1v5h-1zM168 676h1v6h-1zM169 676h1v6h-1zM170 699h1v6h-1zM170 676h1v6h-1zM172 699h1v6h-1zM172 664h1v6h-1zM173 699h1v6h-1zM173 676h1v6h-1zM173 664h1v6h-1zM174 699h1v6h-1zM174 676h1v6h-1zM175 676h1v6h-1zM758 693h1v6h-1zM760 711h1v6h-1zM760 635h1v5h-1zM762 570h1v6h-1z"/>
<path class="d" fill="#68ff97" d="M162 629h1v6h-1zM760 646h1v6h-1zM762 564h1v6h-1zM788 717h1v6h-1z"/>
<path class="d" fill="#78ff87" d="M161 658h1v6h-1zM162 682h1v5h-1zM162 658h1v6h-1zM163 682h1v5h-1zM163 658h1v6h-1zM173 658h1v6h-1zM757 682h1v5h-1zM793 558h1v6h-1z"/>
<path class="d" fill="#87ff78" d="M144 705h1v6h-1zM145 705h1v6h-1zM146 705h1v6h-1zM161 670h1v6h-1zM161 640h1v6h-1zM162 705h1v6h-1zM162 670h1v6h-1zM163 705h1v6h-1zM163 670h1v6h-1zM171 705h1v6h-1zM760 640h1v6h-1zM761 640h1v6h-1zM791 552h1v6h-1zM792 552h1v6h-1z"/>
<path class="d" fill="#97ff68" d="M143 699h1v6h-1zM145 693h1v6h-1zM146 693h1v12h-1zM162 693h1v12h-1zM162 652h1v6h-1zM162 611h1v6h-1zM163 693h1v12h-1zM166 611h1v6h-1zM167 611h1v6h-1zM171 699h1v6h-1zM758 699h1v6h-1zM759 693h1v6h-1zM761 635h1v5h-1zM788 611h1v6h-1zM792 541h1v5h-1z"/>
<path class="d" fill="#a7ff58" d="M162 676h1v6h-1zM162 664h1v6h-1zM757 676h1v6h-1zM761 711h1v6h-1zM763 605h1v6h-1zM764 664h1v6h-1zM788 605h1v6h-1zM792 535h1v6h-1zM793 711h1v6h-1z"/>
<path class="d" fill="#b70000" d="M789 699h1v6h-1zM790 693h1v12h-1zM791 693h1v12h-1zM792 699h1v6h-1z"/>
<path class="d" fill="#b7ff48" d="M162 646h1v6h-1zM761 646h1v6h-1zM762 599h1v6h-1zM764 646h1v6h-1zM788 599h1v6h-1zM789 717h1v6h-1zM789 599h1v6h-1zM790 717h1v6h-1zM791 717h1v6h-1zM791 599h1v6h-1zM792 717h1v6h-1z"/>
<path class="d" fill="#c70000" d="M789 705h1v6h-1zM790 705h1v6h-1zM791 705h1v6h-1zM792 705h1v6h-1z"/>
<path class="d" fill="#c7ff38" d="M162 640h1v6h-1zM762 593h1v6h-1zM764 658h1v6h-1zM764 640h1v6h-1z"/>
<path class="d" fill="#d70000" d="M790 682h1v5h-1zM791 682h1v5h-1z"/>
<path class="d" fill="#d7ff28" d="M759 687h1v6h-1zM760 705h1v6h-1zM760 652h1v6h-1zM764 652h1v6h-1zM788 617h1v6h-1zM788 588h1v5h-1zM789 588h1v5h-1zM792 588h1v5h-1zM793 505h1v6h-1z"/>
<path class="d" fill="#e7ff18" d="M144 699h1v6h-1zM145 699h1v6h-1zM162 635h1v5h-1zM759 699h1v6h-1zM760 676h1v6h-1zM764 711h1v6h-1zM764 693h1v6h-1zM788 582h1v6h-1zM789 582h1v6h-1zM792 582h1v6h-1z"/>
<path class="d" fill="#f70000" d="M788 699h1v6h-1zM789 693h1v6h-1zM790 676h1v6h-1zM791 676h1v6h-1zM791 664h1v6h-1zM792 693h1v6h-1z"/>
<path class="d" fill="#f7ff08" d="M762 605h1v6h-1zM789 605h1v6h-1zM791 605h1v6h-1zM792 576h1v6h-1z"/>
<path class="d" fill="#ff0800" d="M788 705h1v6h-1zM790 687h1v6h-1zM791 687h1v6h-1zM792 687h1v6h-1z"/>
<path class="d" fill="#ff1800" d="M789 682h1v5h-1zM790 670h1v6h-1zM790 658h1v6h-1zM791 670h1v6h-1zM791 640h1v6h-1z"/>
<path class="d" fill="#ff3800" d="M789 711h1v6h-1zM789 676h1v6h-1zM789 664h1v6h-1zM790 711h1v6h-1zM790 664h1v6h-1zM791 711h1v6h-1zM792 711h1v6h-1z"/>
<path class="d" fill="#ff4800" d="M762 699h1v6h-1zM763 699h1v6h-1zM789 652h1v6h-1zM790 652h1v6h-1zM790 635h1v5h-1zM791 652h1v6h-1zM791 635h1v5h-1z"/>
<path class="d" fill="#ff5800" d="M762 705h1v6h-1zM763 705h1v6h-1zM789 687h1v6h-1zM789 670h1v6h-1zM789 640h1v6h-1zM790 640h1v6h-1zM790 617h1v6h-1z"/>
<path class="d" fill="#ff6800" d="M763 623h1v6h-1zM788 682h1v5h-1zM789 658h1v6h-1zM789 623h1v6h-1zM790 623h1v6h-1zM791 658h1v6h-1zM792 682h1v5h-1z"/>
<path class="d" fill="#ff7800" d="M762 629h1v6h-1zM763 629h1v6h-1zM789 629h1v6h-1zM790 646h1v6h-1zM790 629h1v6h-1zM791 646h1v6h-1zM791 629h1v6h-1z"/>
<path class="d" fill="#ff8700" d="M761 699h1v6h-1zM762 693h1v6h-1zM762 664h1v6h-1zM762 635h1v5h-1zM763 693h1v6h-1zM763 664h1v6h-1zM763 635h1v5h-1zM788 711h1v6h-1zM788 693h1v6h-1zM788 676h1v6h-1zM789 635h1v5h-1zM789 611h1v6h-1zM790 611h1v6h-1zM792 676h1v6h-1zM792 664h1v6h-1z"/>
<path class="d" fill="#ff9700" d="M761 705h1v6h-1zM762 687h1v6h-1zM762 617h1v6h-1zM763 687h1v6h-1zM764 705h1v6h-1zM789 617h1v6h-1zM792 652h1v6h-1z"/>
<path class="d" fill="#ffa700" d="M760 658h1v6h-1zM761 682h1v5h-1zM761 658h1v6h-1zM762 682h1v5h-1zM762 658h1v6h-1zM762 640h1v6h-1zM762 623h1v6h-1zM763 682h1v5h-1zM763 670h1v6h-1zM763 658h1v6h-1zM763 640h1v6h-1zM788 670h1v6h-1zM788 658h1v6h-1zM788 640h1v6h-1zM791 623h1v6h-1zM792 670h1v6h-1zM792 658h1v6h-1zM792 640h1v6h-1z"/>
<path class="d" fill="#ffb700" d="M762 646h1v6h-1zM763 646h1v6h-1zM788 646h1v6h-1zM789 646h1v6h-1zM792 646h1v6h-1zM792 599h1v6h-1z"/>
<path class="d" fill="#ffc700" d="M760 664h1v6h-1zM761 676h1v6h-1zM761 664h1v6h-1zM762 711h1v6h-1zM762 676h1v6h-1zM763 711h1v6h-1zM763 676h1v6h-1zM764 676h1v6h-1zM788 664h1v6h-1zM788 629h1v6h-1zM790 605h1v6h-1zM792 629h1v6h-1zM792 605h1v6h-1z"/>
<path class="d" fill="#ffd700" d="M760 693h1v12h-1zM761 693h1v6h-1zM761 652h1v6h-1zM762 652h1v6h-1zM762 611h1v6h-1zM763 652h1v6h-1zM763 611h1v6h-1zM764 699h1v6h-1zM788 652h1v6h-1zM788 635h1v5h-1zM791 611h1v6h-1zM792 635h1v5h-1zM792 611h1v6h-1zM793 693h1v12h-1z"/>
<path class="d" fill="#ffe700" d="M760 687h1v6h-1zM760 670h1v6h-1zM761 687h1v6h-1zM761 670h1v6h-1zM762 670h1v6h-1zM763 617h1v6h-1zM764 687h1v6h-1zM764 670h1v6h-1zM788 687h1v6h-1zM791 617h1v6h-1zM792 617h1v6h-1zM792 593h1v6h-1zM793 705h1v6h-1z"/>
<path class="d" fill="#fff700" d="M760 682h1v5h-1zM764 682h1v5h-1zM788 623h1v6h-1zM790 599h1v6h-1zM792 623h1v6h-1zM792 570h1v6h-1z"/>
<rect class="ax" x="138.5" y="497.5" width="712" height="235"/>
<path class="ax" d="M286.5 732.5V724M286.5 497.5V505M434.5 732.5V724M434.5 497.5V505M583.5 732.5V724M583.5 497.5V505M731.5 732.5V724M731.5 497.5V505M138.5 673.5H146M850.5 673.5H842M138.5 614.5H146M850.5 614.5H842M138.5 555.5H146M850.5 555.5H842"/>
<text x="138" y="759.8" text-anchor="middle">0</text><text x="286.333" y="759.8" text-anchor="middle">5</text><text x="434.667" y="759.8" text-anchor="middle">10</text><text x="583" y="759.8" text-anchor="middle">15</text><text x="731.333" y="759.8" text-anchor="middle">20</text>
<text x="131.5" y="740.4" text-anchor="end">0</text><text x="131.5" y="681.4" text-anchor="end">2</text><text x="131.5" y="622.4" text-anchor="end">4</text><text x="131.5" y="563.4" text-anchor="end">6</text><text x="131.5" y="505.4" text-anchor="end">8</text>
<text class="l" x="493.2" y="786.5" text-anchor="middle">Time, UTC</text>
<text class="l" transform="translate(109 616) rotate(-90)" text-anchor="middle">D, mm</text>
<text class="l"><tspan class="l" x="388.55" y="471.90" letter-spacing="0.5">log</tspan><tspan class="s" x="417.25" y="480.30" letter-spacing="-0.9">10</tspan><tspan class="l" x="436.95" y="471.90">[M(D),</tspan><tspan class="l" x="495.25" y="471.90">g</tspan><tspan class="l" x="510.85" y="471.90">m</tspan><tspan class="s" x="526.75" y="460.60">-3</tspan><tspan class="l" x="545.65" y="471.90" letter-spacing="0.3">mm</tspan><tspan class="s" x="577.35" y="460.60">-1</tspan><tspan class="l" x="591.65" y="471.90">]</tspan></text>
<rect class="d" x="882.5" y="729.81" width="41" height="4.29" fill="#000087"/><rect class="d" x="882.5" y="726.12" width="41" height="4.29" fill="#000097"/><rect class="d" x="882.5" y="722.44" width="41" height="4.29" fill="#0000a7"/><rect class="d" x="882.5" y="718.75" width="41" height="4.29" fill="#0000b7"/><rect class="d" x="882.5" y="715.06" width="41" height="4.29" fill="#0000c7"/><rect class="d" x="882.5" y="711.38" width="41" height="4.29" fill="#0000d7"/><rect class="d" x="882.5" y="707.69" width="41" height="4.29" fill="#0000e7"/><rect class="d" x="882.5" y="704.00" width="41" height="4.29" fill="#0000f7"/><rect class="d" x="882.5" y="700.31" width="41" height="4.29" fill="#0008ff"/><rect class="d" x="882.5" y="696.62" width="41" height="4.29" fill="#0018ff"/><rect class="d" x="882.5" y="692.94" width="41" height="4.29" fill="#0028ff"/><rect class="d" x="882.5" y="689.25" width="41" height="4.29" fill="#0038ff"/><rect class="d" x="882.5" y="685.56" width="41" height="4.29" fill="#0048ff"/><rect class="d" x="882.5" y="681.88" width="41" height="4.29" fill="#0058ff"/><rect class="d" x="882.5" y="678.19" width="41" height="4.29" fill="#0068ff"/><rect class="d" x="882.5" y="674.50" width="41" height="4.29" fill="#0078ff"/><rect class="d" x="882.5" y="670.81" width="41" height="4.29" fill="#0087ff"/><rect class="d" x="882.5" y="667.12" width="41" height="4.29" fill="#0097ff"/><rect class="d" x="882.5" y="663.44" width="41" height="4.29" fill="#00a7ff"/><rect class="d" x="882.5" y="659.75" width="41" height="4.29" fill="#00b7ff"/><rect class="d" x="882.5" y="656.06" width="41" height="4.29" fill="#00c7ff"/><rect class="d" x="882.5" y="652.38" width="41" height="4.29" fill="#00d7ff"/><rect class="d" x="882.5" y="648.69" width="41" height="4.29" fill="#00e7ff"/><rect class="d" x="882.5" y="645.00" width="41" height="4.29" fill="#00f7ff"/><rect class="d" x="882.5" y="641.31" width="41" height="4.29" fill="#08fff7"/><rect class="d" x="882.5" y="637.62" width="41" height="4.29" fill="#18ffe7"/><rect class="d" x="882.5" y="633.94" width="41" height="4.29" fill="#28ffd7"/><rect class="d" x="882.5" y="630.25" width="41" height="4.29" fill="#38ffc7"/><rect class="d" x="882.5" y="626.56" width="41" height="4.29" fill="#48ffb7"/><rect class="d" x="882.5" y="622.88" width="41" height="4.29" fill="#58ffa7"/><rect class="d" x="882.5" y="619.19" width="41" height="4.29" fill="#68ff97"/><rect class="d" x="882.5" y="615.50" width="41" height="4.29" fill="#78ff87"/><rect class="d" x="882.5" y="611.81" width="41" height="4.29" fill="#87ff78"/><rect class="d" x="882.5" y="608.12" width="41" height="4.29" fill="#97ff68"/><rect class="d" x="882.5" y="604.44" width="41" height="4.29" fill="#a7ff58"/><rect class="d" x="882.5" y="600.75" width="41" height="4.29" fill="#b7ff48"/><rect class="d" x="882.5" y="597.06" width="41" height="4.29" fill="#c7ff38"/><rect class="d" x="882.5" y="593.38" width="41" height="4.29" fill="#d7ff28"/><rect class="d" x="882.5" y="589.69" width="41" height="4.29" fill="#e7ff18"/><rect class="d" x="882.5" y="586.00" width="41" height="4.29" fill="#f7ff08"/><rect class="d" x="882.5" y="582.31" width="41" height="4.29" fill="#fff700"/><rect class="d" x="882.5" y="578.62" width="41" height="4.29" fill="#ffe700"/><rect class="d" x="882.5" y="574.94" width="41" height="4.29" fill="#ffd700"/><rect class="d" x="882.5" y="571.25" width="41" height="4.29" fill="#ffc700"/><rect class="d" x="882.5" y="567.56" width="41" height="4.29" fill="#ffb700"/><rect class="d" x="882.5" y="563.88" width="41" height="4.29" fill="#ffa700"/><rect class="d" x="882.5" y="560.19" width="41" height="4.29" fill="#ff9700"/><rect class="d" x="882.5" y="556.50" width="41" height="4.29" fill="#ff8700"/><rect class="d" x="882.5" y="552.81" width="41" height="4.29" fill="#ff7800"/><rect class="d" x="882.5" y="549.12" width="41" height="4.29" fill="#ff6800"/><rect class="d" x="882.5" y="545.44" width="41" height="4.29" fill="#ff5800"/><rect class="d" x="882.5" y="541.75" width="41" height="4.29" fill="#ff4800"/><rect class="d" x="882.5" y="538.06" width="41" height="4.29" fill="#ff3800"/><rect class="d" x="882.5" y="534.38" width="41" height="4.29" fill="#ff2800"/><rect class="d" x="882.5" y="530.69" width="41" height="4.29" fill="#ff1800"/><rect class="d" x="882.5" y="527.00" width="41" height="4.29" fill="#ff0800"/><rect class="d" x="882.5" y="523.31" width="41" height="4.29" fill="#f70000"/><rect class="d" x="882.5" y="519.62" width="41" height="4.29" fill="#e70000"/><rect class="d" x="882.5" y="515.94" width="41" height="4.29" fill="#d70000"/><rect class="d" x="882.5" y="512.25" width="41" height="4.29" fill="#c70000"/><rect class="d" x="882.5" y="508.56" width="41" height="4.29" fill="#b70000"/><rect class="d" x="882.5" y="504.88" width="41" height="4.29" fill="#a70000"/><rect class="d" x="882.5" y="501.19" width="41" height="4.29" fill="#970000"/><rect class="d" x="882.5" y="497.50" width="41" height="4.29" fill="#870000"/>
<rect class="ax" x="882.5" y="497.5" width="41" height="236"/>
<text x="929" y="741.3">-3</text><text x="929" y="682.3">-2</text><text x="929" y="623.3">-1</text><text x="929" y="564.3">0</text><text x="929" y="505.3">1</text>
<path class="ax" d="M882.5 674.5h3M923.5 674.5h-3M882.5 615.5h3M923.5 615.5h-3M882.5 556.5h3M923.5 556.5h-3"/>
</g>
<g id="panel3">
<path class="d" fill="#000087" d="M139 1066h1v6h-1zM140 1066h1v12h-1zM141 1072h1v6h-1zM142 1072h1v6h-1zM143 1072h1v6h-1zM144 1072h1v6h-1zM145 1072h1v6h-1zM146 1072h1v6h-1zM147 1072h1v6h-1zM148 1072h1v6h-1zM149 1072h1v6h-1zM150 1072h1v6h-1zM151 1066h1v6h-1zM152 1066h1v12h-1zM153 1066h1v12h-1zM154 1060h1v6h-1zM155 1060h1v18h-1zM156 1054h1v18h-1zM157 1060h1v6h-1zM158 1060h1v12h-1zM159 1066h1v12h-1zM160 1072h1v6h-1zM161 1072h1v6h-1zM162 1072h1v6h-1zM163 1072h1v6h-1zM164 1072h1v6h-1zM165 1072h1v6h-1zM166 1072h1v6h-1zM167 1072h1v6h-1zM168 1072h1v6h-1zM169 1072h1v6h-1zM170 1072h1v6h-1zM171 1072h1v6h-1zM172 1072h1v6h-1zM173 1072h1v6h-1zM174 1072h1v6h-1zM175 1072h1v6h-1zM176 1072h1v6h-1zM177 1072h1v6h-1zM178 1066h1v12h-1zM179 1066h1v12h-1zM180 1060h1v18h-1zM181 1060h1v12h-1zM182 1060h1v6h-1zM183 1060h1v6h-1zM185 1060h1v6h-1zM186 1060h1v6h-1zM200 1066h1v6h-1zM200 1054h1v6h-1zM202 1060h1v6h-1zM207 1060h1v12h-1zM208 1054h1v12h-1zM209 1060h1v12h-1zM210 1060h1v6h-1zM211 1066h1v12h-1zM213 1066h1v6h-1zM214 1066h1v12h-1zM215 1066h1v6h-1zM216 1066h1v6h-1zM217 1066h1v6h-1zM218 1066h1v6h-1zM219 1066h1v6h-1zM220 1066h1v12h-1zM221 1066h1v6h-1zM222 1066h1v12h-1zM223 1066h1v6h-1zM224 1072h1v6h-1zM225 1072h1v6h-1zM227 1066h1v6h-1zM229 1066h1v6h-1zM230 1060h1v12h-1zM231 1066h1v6h-1zM232 1060h1v12h-1zM233 1054h1v12h-1zM239 1060h1v6h-1zM240 1060h1v6h-1zM241 1060h1v6h-1zM245 1054h1v6h-1zM246 1060h1v6h-1zM247 1066h1v6h-1zM248 1060h1v12h-1zM251 1066h1v12h-1zM256 1054h1v12h-1zM258 1054h1v18h-1zM259 1060h1v12h-1zM260 1054h1v18h-1zM261 1060h1v6h-1zM262 1060h1v6h-1zM263 1066h1v12h-1zM263 1054h1v6h-1zM269 1060h1v18h-1zM381 1066h1v6h-1zM398 1072h1v6h-1zM599 1054h1v6h-1zM616 1066h1v12h-1zM681 1054h1v6h-1zM689 1066h1v6h-1zM692 1072h1v6h-1zM694 1066h1v6h-1zM695 1066h1v6h-1zM757 1072h1v6h-1zM758 1072h1v6h-1zM759 1072h1v6h-1zM760 1072h1v6h-1zM764 1072h1v6h-1zM765 1072h1v6h-1zM766 1072h1v6h-1zM767 1072h1v6h-1zM768 1072h1v6h-1zM769 1072h1v6h-1zM770 1066h1v12h-1zM771 1066h1v12h-1zM778 1066h1v6h-1zM779 1066h1v12h-1zM780 1066h1v6h-1zM781 1066h1v12h-1zM793 1072h1v6h-1zM794 1060h1v12h-1zM795 1072h1v6h-1z"/>
<path class="d" fill="#000097" d="M141 1066h1v6h-1zM150 1066h1v6h-1zM177 1066h1v6h-1zM224 1066h1v6h-1zM226 1066h1v6h-1zM757 1066h1v6h-1zM769 1066h1v6h-1z"/>
<path class="d" fill="#0000a7" d="M152 1060h1v6h-1zM211 1060h1v6h-1zM212 1060h1v6h-1zM213 1060h1v6h-1zM227 1060h1v6h-1zM228 1060h1v6h-1zM229 1060h1v6h-1z"/>
<path class="d" fill="#0000b7" d="M139 1048h1v6h-1zM140 1048h1v6h-1zM151 1048h1v6h-1zM155 1048h1v6h-1zM159 1048h1v6h-1zM185 1048h1v6h-1zM599 1048h1v6h-1zM761 1072h1v6h-1zM762 1072h1v6h-1zM763 1072h1v6h-1zM765 1048h1v6h-1z"/>
<path class="d" fill="#0000c7" d="M181 1054h1v6h-1zM210 1054h1v6h-1zM211 1054h1v6h-1zM215 1054h1v6h-1zM240 1054h1v6h-1zM241 1054h1v6h-1z"/>
<path class="d" fill="#0000d7" d="M142 1066h1v6h-1zM143 1066h1v6h-1zM148 1066h1v6h-1zM149 1066h1v6h-1zM160 1066h1v6h-1zM165 1066h1v6h-1zM166 1066h1v6h-1zM169 1066h1v6h-1zM173 1066h1v6h-1zM174 1066h1v6h-1zM175 1066h1v6h-1zM176 1066h1v6h-1zM225 1066h1v6h-1zM766 1066h1v6h-1zM767 1066h1v6h-1z"/>
<path class="d" fill="#0000e7" d="M179 1060h1v6h-1zM214 1060h1v6h-1z"/>
<path class="d" fill="#0000f7" d="M788 1072h1v6h-1z"/>
<path class="d" fill="#0008ff" d="M139 1054h1v6h-1zM140 1054h1v6h-1zM152 1054h1v6h-1zM180 1054h1v6h-1zM214 1054h1v6h-1z"/>
<path class="d" fill="#0018ff" d="M144 1066h1v6h-1zM145 1066h1v6h-1zM146 1066h1v6h-1zM147 1066h1v6h-1zM158 1042h1v6h-1zM161 1066h1v6h-1zM164 1066h1v6h-1zM167 1066h1v6h-1zM168 1066h1v6h-1zM170 1066h1v6h-1zM172 1066h1v6h-1zM180 1042h1v6h-1zM207 1042h1v6h-1zM597 1042h1v6h-1zM598 1042h1v6h-1zM758 1066h1v6h-1zM759 1066h1v6h-1zM765 1042h1v6h-1zM768 1066h1v6h-1zM779 1042h1v6h-1zM780 1042h1v6h-1zM793 1042h1v6h-1z"/>
<path class="d" fill="#0028ff" d="M139 1060h1v6h-1zM140 1060h1v6h-1zM151 1060h1v6h-1zM159 1060h1v6h-1zM178 1060h1v6h-1zM215 1060h1v6h-1zM216 1060h1v6h-1zM217 1060h1v6h-1zM218 1060h1v6h-1zM222 1060h1v6h-1zM223 1060h1v6h-1zM770 1060h1v6h-1zM778 1060h1v6h-1zM779 1060h1v6h-1zM781 1060h1v6h-1z"/>
<path class="d" fill="#0038ff" d="M789 1072h1v6h-1zM790 1072h1v6h-1zM791 1072h1v6h-1zM792 1072h1v6h-1z"/>
<path class="d" fill="#0048ff" d="M141 1048h1v6h-1zM151 1054h1v6h-1zM180 1048h1v6h-1zM208 1048h1v6h-1zM212 1054h1v6h-1zM213 1054h1v6h-1zM227 1054h1v6h-1zM228 1054h1v6h-1zM229 1054h1v6h-1zM230 1054h1v6h-1zM231 1054h1v6h-1zM781 1048h1v6h-1z"/>
<path class="d" fill="#0058ff" d="M163 1066h1v6h-1zM171 1066h1v6h-1zM765 1066h1v6h-1z"/>
<path class="d" fill="#0068ff" d="M141 1060h1v6h-1zM150 1060h1v6h-1zM177 1060h1v6h-1zM219 1060h1v6h-1zM220 1060h1v6h-1zM221 1060h1v6h-1zM226 1060h1v6h-1zM757 1060h1v6h-1zM766 1060h1v6h-1zM769 1060h1v6h-1z"/>
<path class="d" fill="#0078ff" d="M141 1037h1v5h-1zM142 1037h1v5h-1zM144 1037h1v5h-1zM148 1037h1v5h-1zM180 1037h1v5h-1zM209 1037h1v5h-1zM224 1037h1v5h-1zM597 1037h1v5h-1zM598 1037h1v5h-1zM765 1037h1v5h-1zM793 1037h1v5h-1z"/>
<path class="d" fill="#0087ff" d="M150 1054h1v6h-1zM159 1054h1v6h-1zM179 1048h1v12h-1zM211 1048h1v6h-1zM216 1054h1v6h-1zM218 1054h1v6h-1zM222 1054h1v6h-1zM223 1054h1v6h-1zM598 1048h1v6h-1zM769 1054h1v6h-1zM770 1054h1v6h-1zM781 1054h1v6h-1z"/>
<path class="d" fill="#0097ff" d="M162 1066h1v6h-1zM760 1066h1v6h-1z"/>
<path class="d" fill="#00a7ff" d="M142 1060h1v6h-1zM148 1060h1v6h-1zM149 1060h1v6h-1zM160 1060h1v6h-1zM165 1060h1v6h-1zM166 1060h1v6h-1zM167 1060h1v6h-1zM168 1060h1v6h-1zM169 1060h1v6h-1zM173 1060h1v6h-1zM174 1060h1v6h-1zM175 1060h1v6h-1zM176 1060h1v6h-1zM224 1060h1v6h-1zM225 1060h1v6h-1zM765 1060h1v6h-1zM767 1060h1v6h-1zM768 1060h1v6h-1z"/>
<path class="d" fill="#00b7ff" d="M147 1031h1v6h-1zM179 1042h1v6h-1zM209 1042h1v6h-1zM210 1042h1v6h-1zM211 1042h1v6h-1zM214 1031h1v6h-1zM215 1042h1v6h-1zM216 1042h1v6h-1zM216 1031h1v6h-1zM221 1042h1v6h-1zM221 1031h1v6h-1zM222 1042h1v6h-1zM223 1042h1v6h-1zM225 1042h1v6h-1zM226 1042h1v6h-1zM226 1031h1v6h-1zM597 1031h1v6h-1zM758 1042h1v6h-1zM787 1031h1v6h-1z"/>
<path class="d" fill="#00c7ff" d="M149 1054h1v6h-1zM178 1054h1v6h-1zM209 1048h1v6h-1zM210 1048h1v6h-1zM212 1048h1v6h-1zM213 1048h1v6h-1zM217 1054h1v6h-1zM219 1054h1v6h-1zM220 1054h1v6h-1zM221 1054h1v6h-1zM226 1054h1v6h-1zM765 1054h1v6h-1zM778 1054h1v6h-1zM779 1054h1v6h-1z"/>
<path class="d" fill="#00d7ff" d="M761 1066h1v6h-1zM793 1066h1v6h-1z"/>
<path class="d" fill="#00e7ff" d="M143 1060h1v6h-1zM147 1060h1v6h-1zM161 1060h1v6h-1zM164 1060h1v6h-1zM170 1060h1v6h-1zM172 1060h1v6h-1zM758 1060h1v6h-1zM759 1060h1v6h-1z"/>
<path class="d" fill="#00f7ff" d="M141 1042h1v6h-1zM142 1042h1v6h-1zM143 1042h1v6h-1zM144 1042h1v6h-1zM148 1042h1v6h-1zM149 1042h1v6h-1zM178 1042h1v6h-1zM212 1042h1v6h-1zM213 1042h1v6h-1zM214 1042h1v6h-1zM217 1042h1v6h-1zM220 1042h1v6h-1z"/>
<path class="d" fill="#08fff7" d="M142 1048h1v6h-1zM148 1048h1v12h-1zM149 1048h1v6h-1zM158 1037h1v5h-1zM159 1037h1v5h-1zM160 1054h1v6h-1zM165 1054h1v6h-1zM166 1054h1v6h-1zM167 1048h1v12h-1zM168 1054h1v6h-1zM169 1054h1v6h-1zM175 1054h1v6h-1zM176 1054h1v6h-1zM177 1054h1v6h-1zM178 1048h1v6h-1zM178 1037h1v5h-1zM178 1025h1v6h-1zM179 1037h1v5h-1zM210 1037h1v5h-1zM210 1025h1v6h-1zM212 1037h1v5h-1zM213 1037h1v5h-1zM214 1048h1v6h-1zM214 1037h1v5h-1zM215 1048h1v6h-1zM215 1037h1v5h-1zM216 1048h1v6h-1zM216 1025h1v6h-1zM217 1048h1v6h-1zM217 1037h1v5h-1zM218 1048h1v6h-1zM218 1037h1v5h-1zM219 1048h1v6h-1zM219 1037h1v5h-1zM220 1048h1v6h-1zM220 1037h1v5h-1zM221 1048h1v6h-1zM222 1048h1v6h-1zM223 1048h1v6h-1zM224 1054h1v6h-1zM225 1054h1v6h-1zM226 1048h1v6h-1zM597 1025h1v6h-1zM757 1054h1v6h-1zM757 1025h1v6h-1zM767 1054h1v6h-1zM768 1054h1v6h-1zM768 1037h1v5h-1zM769 1037h1v5h-1zM778 1037h1v5h-1zM779 1048h1v6h-1zM779 1037h1v5h-1z"/>
<path class="d" fill="#18ffe7" d="M764 1066h1v6h-1z"/>
<path class="d" fill="#28ffd7" d="M144 1060h1v6h-1zM145 1060h1v6h-1zM146 1060h1v6h-1zM162 1060h1v6h-1zM163 1060h1v6h-1zM171 1060h1v6h-1z"/>
<path class="d" fill="#38ffc7" d="M218 1042h1v6h-1zM219 1042h1v6h-1zM224 1042h1v6h-1z"/>
<path class="d" fill="#48ffb7" d="M142 1054h1v6h-1zM143 1048h1v6h-1zM147 1054h1v6h-1zM160 1048h1v6h-1zM160 1037h1v5h-1zM161 1054h1v6h-1zM164 1054h1v6h-1zM165 1048h1v6h-1zM166 1048h1v6h-1zM168 1048h1v6h-1zM169 1048h1v6h-1zM170 1048h1v12h-1zM171 1048h1v6h-1zM172 1048h1v12h-1zM173 1048h1v12h-1zM174 1048h1v12h-1zM175 1048h1v6h-1zM176 1048h1v6h-1zM177 1048h1v6h-1zM177 1037h1v5h-1zM212 1019h1v6h-1zM216 1019h1v6h-1zM224 1048h1v6h-1zM225 1048h1v6h-1zM597 1019h1v6h-1zM757 1048h1v6h-1zM757 1019h1v6h-1zM767 1048h1v6h-1zM768 1048h1v6h-1zM778 1019h1v6h-1z"/>
<path class="d" fill="#58ffa7" d="M159 1031h1v6h-1zM762 1066h1v6h-1zM763 1066h1v6h-1zM768 1031h1v6h-1zM769 1031h1v6h-1zM778 1031h1v6h-1zM779 1031h1v6h-1z"/>
<path class="d" fill="#68ff97" d="M760 1060h1v6h-1z"/>
<path class="d" fill="#78ff87" d="M145 1042h1v6h-1zM147 1042h1v6h-1zM158 1013h1v6h-1zM160 1042h1v6h-1zM168 1042h1v6h-1zM177 1042h1v6h-1zM177 1013h1v6h-1zM178 1013h1v6h-1zM757 1042h1v6h-1zM778 1013h1v6h-1zM781 1013h1v6h-1z"/>
<path class="d" fill="#870000" d="M762 948h1v53h-1zM762 919h1v6h-1zM763 966h1v35h-1zM788 978h1v23h-1zM788 954h1v6h-1zM788 937h1v11h-1zM789 1007h1v18h-1zM789 954h1v47h-1zM789 937h1v11h-1zM790 954h1v88h-1zM791 954h1v88h-1zM791 907h1v6h-1zM792 1007h1v6h-1zM792 925h1v76h-1zM792 907h1v6h-1zM792 890h1v11h-1zM793 913h1v6h-1zM793 860h1v6h-1z"/>
<path class="d" fill="#87ff78" d="M143 1054h1v6h-1zM144 1048h1v6h-1zM146 1054h1v6h-1zM146 1037h1v5h-1zM147 1048h1v6h-1zM161 1048h1v6h-1zM162 1054h1v6h-1zM163 1054h1v6h-1zM164 1048h1v6h-1zM165 1037h1v5h-1zM166 1037h1v5h-1zM167 1037h1v5h-1zM171 1054h1v6h-1zM171 1037h1v5h-1zM176 1037h1v5h-1zM758 1048h1v12h-1z"/>
<path class="d" fill="#970000" d="M762 1001h1v6h-1zM762 925h1v6h-1zM763 1001h1v6h-1zM763 960h1v6h-1zM788 1001h1v6h-1zM788 972h1v6h-1zM788 960h1v6h-1zM789 1001h1v6h-1zM792 1001h1v6h-1z"/>
<path class="d" fill="#97ff68" d="M159 1025h1v6h-1zM160 1031h1v6h-1zM167 1031h1v6h-1zM177 1025h1v12h-1zM178 1031h1v6h-1zM768 1025h1v6h-1zM769 1025h1v6h-1zM778 1025h1v6h-1zM779 1025h1v6h-1zM788 1066h1v6h-1z"/>
<path class="d" fill="#a70000" d="M762 1019h1v6h-1zM762 931h1v6h-1zM763 1019h1v6h-1zM789 1025h1v12h-1zM792 1019h1v6h-1z"/>
<path class="d" fill="#a7ff58" d="M141 1007h1v6h-1zM159 1007h1v6h-1zM173 1007h1v6h-1zM174 1007h1v6h-1zM176 1007h1v6h-1zM781 1007h1v6h-1zM793 1060h1v6h-1z"/>
<path class="d" fill="#b70000" d="M162 990h1v5h-1zM162 966h1v6h-1zM166 966h1v6h-1zM167 966h1v6h-1zM760 1013h1v6h-1zM761 1007h1v12h-1zM762 1007h1v12h-1zM763 1007h1v12h-1zM788 1007h1v12h-1zM788 966h1v6h-1zM789 1037h1v5h-1zM790 1048h1v6h-1zM791 1048h1v6h-1zM792 1013h1v6h-1z"/>
<path class="d" fill="#b7ff48" d="M146 1042h1v6h-1zM161 1042h1v6h-1zM162 1042h1v6h-1zM163 1042h1v6h-1zM164 1042h1v6h-1zM165 1042h1v6h-1zM166 1042h1v6h-1zM167 1042h1v6h-1zM169 1042h1v6h-1zM170 1042h1v6h-1zM171 1042h1v6h-1zM172 1042h1v6h-1zM173 1042h1v6h-1zM174 1042h1v6h-1zM175 1042h1v6h-1zM176 1042h1v6h-1zM768 1042h1v6h-1zM769 1042h1v6h-1z"/>
<path class="d" fill="#c70000" d="M762 937h1v6h-1zM790 1042h1v6h-1zM791 1042h1v6h-1zM792 1042h1v6h-1z"/>
<path class="d" fill="#c7ff38" d="M144 1054h1v6h-1zM145 1048h1v12h-1zM146 1048h1v6h-1zM147 1037h1v5h-1zM161 1037h1v5h-1zM162 1048h1v6h-1zM163 1048h1v6h-1zM164 1037h1v5h-1zM168 1037h1v5h-1zM169 1037h1v5h-1zM170 1037h1v5h-1zM172 1037h1v5h-1zM173 1037h1v5h-1zM174 1037h1v5h-1zM175 1037h1v5h-1zM759 1048h1v12h-1z"/>
<path class="d" fill="#d70000" d="M779 943h1v5h-1zM793 943h1v5h-1z"/>
<path class="d" fill="#d7ff28" d="M141 1001h1v6h-1zM159 1019h1v6h-1zM160 1025h1v6h-1zM165 1025h1v12h-1zM166 1025h1v12h-1zM167 1001h1v6h-1zM170 1019h1v6h-1zM171 1031h1v6h-1zM171 1019h1v6h-1zM172 1025h1v12h-1zM175 1025h1v6h-1zM176 1025h1v12h-1zM177 1019h1v6h-1zM768 1001h1v6h-1zM778 1001h1v6h-1zM781 1001h1v6h-1zM789 1066h1v6h-1zM790 1066h1v6h-1zM791 1066h1v6h-1zM792 1066h1v6h-1z"/>
<path class="d" fill="#e70000" d="M162 995h1v6h-1zM760 1019h1v6h-1zM761 1019h1v6h-1zM763 1025h1v6h-1zM764 995h1v6h-1zM788 1019h1v18h-1zM792 1025h1v12h-1z"/>
<path class="d" fill="#e7ff18" d="M761 1060h1v6h-1zM764 1060h1v6h-1z"/>
<path class="d" fill="#f70000" d="M760 1007h1v6h-1zM761 990h1v5h-1zM764 1007h1v6h-1zM788 1037h1v5h-1zM789 1048h1v12h-1zM789 948h1v6h-1zM790 1054h1v6h-1zM790 948h1v6h-1zM791 1054h1v6h-1zM792 1048h1v12h-1zM792 1037h1v5h-1z"/>
<path class="d" fill="#ff0800" d="M789 1042h1v6h-1z"/>
<path class="d" fill="#ff1800" d="M162 1001h1v6h-1zM162 984h1v6h-1zM761 1001h1v6h-1zM764 1001h1v6h-1z"/>
<path class="d" fill="#ff2800" d="M161 995h1v6h-1zM162 960h1v6h-1zM760 1025h1v6h-1zM760 995h1v6h-1zM761 1025h1v12h-1zM761 995h1v6h-1zM762 1025h1v12h-1zM763 1031h1v6h-1zM764 1025h1v12h-1zM793 960h1v6h-1z"/>
<path class="d" fill="#ff3800" d="M161 990h1v5h-1zM162 1007h1v6h-1zM163 990h1v5h-1zM165 990h1v5h-1zM166 990h1v5h-1zM167 990h1v5h-1zM760 990h1v5h-1zM761 1037h1v5h-1zM762 1037h1v5h-1zM763 1037h1v5h-1zM764 1013h1v6h-1zM788 1054h1v6h-1z"/>
<path class="d" fill="#ff4800" d="M161 966h1v6h-1zM762 1042h1v6h-1zM763 1042h1v6h-1zM793 966h1v6h-1z"/>
<path class="d" fill="#ff5800" d="M760 1001h1v6h-1zM789 1060h1v6h-1zM790 1060h1v6h-1zM791 1060h1v6h-1zM792 1060h1v6h-1z"/>
<path class="d" fill="#ff6800" d="M162 1019h1v6h-1zM162 972h1v6h-1zM170 995h1v6h-1zM171 995h1v6h-1zM760 1031h1v6h-1zM761 972h1v6h-1zM764 1019h1v6h-1zM778 995h1v6h-1zM779 995h1v6h-1z"/>
<path class="d" fill="#ff7800" d="M161 1007h1v12h-1zM162 1013h1v6h-1zM163 1013h1v6h-1zM171 1007h1v6h-1zM172 1007h1v6h-1zM173 1013h1v6h-1zM760 1037h1v5h-1zM762 1048h1v12h-1zM763 1048h1v12h-1zM764 1037h1v5h-1zM768 1007h1v6h-1zM788 1048h1v6h-1z"/>
<path class="d" fill="#ff8700" d="M162 978h1v6h-1zM172 978h1v6h-1zM760 1042h1v6h-1zM761 1042h1v6h-1zM761 978h1v6h-1zM764 1042h1v6h-1zM764 978h1v6h-1zM768 978h1v6h-1zM788 1042h1v6h-1z"/>
<path class="d" fill="#ff9700" d="M161 1001h1v6h-1zM163 1001h1v6h-1zM170 1001h1v6h-1zM171 1001h1v6h-1zM172 1001h1v6h-1zM788 1060h1v6h-1z"/>
<path class="d" fill="#ffa700" d="M161 1019h1v12h-1zM161 984h1v6h-1zM162 1025h1v12h-1zM163 1019h1v12h-1zM166 984h1v6h-1zM170 984h1v6h-1zM172 1019h1v6h-1zM172 984h1v6h-1zM173 1019h1v6h-1zM757 1031h1v6h-1zM761 984h1v6h-1zM764 984h1v6h-1zM768 984h1v6h-1zM781 984h1v6h-1z"/>
<path class="d" fill="#ffb700" d="M160 1007h1v6h-1zM163 1007h1v6h-1zM164 1007h1v6h-1zM165 1007h1v6h-1zM166 1007h1v6h-1zM167 1007h1v6h-1zM168 1007h1v6h-1zM169 1007h1v6h-1zM170 1007h1v6h-1zM172 1013h1v6h-1zM760 1048h1v6h-1zM761 1048h1v12h-1zM768 1013h1v6h-1zM778 1007h1v6h-1zM779 1007h1v6h-1zM793 1048h1v6h-1z"/>
<path class="d" fill="#ffc700" d="M759 1042h1v6h-1z"/>
<path class="d" fill="#ffd700" d="M141 990h1v5h-1zM171 990h1v5h-1zM172 990h1v5h-1zM762 1060h1v6h-1zM763 1060h1v6h-1zM764 990h1v5h-1zM768 990h1v5h-1z"/>
<path class="d" fill="#ffe700" d="M160 1019h1v6h-1zM161 1031h1v6h-1zM163 1031h1v6h-1zM164 1019h1v18h-1zM165 1019h1v6h-1zM166 1019h1v6h-1zM167 1019h1v12h-1zM168 1019h1v18h-1zM169 1019h1v18h-1zM170 1025h1v12h-1zM171 1025h1v6h-1zM173 1025h1v12h-1zM174 1019h1v18h-1zM175 1031h1v6h-1zM175 1019h1v6h-1zM176 1019h1v6h-1zM768 1019h1v6h-1z"/>
<path class="d" fill="#fff700" d="M141 995h1v6h-1zM160 1013h1v6h-1zM162 1037h1v5h-1zM163 1037h1v5h-1zM163 995h1v6h-1zM164 1013h1v6h-1zM164 995h1v6h-1zM165 1013h1v6h-1zM166 1013h1v6h-1zM167 1013h1v6h-1zM167 995h1v6h-1zM168 1013h1v6h-1zM168 995h1v6h-1zM170 1013h1v6h-1zM171 1013h1v6h-1zM172 995h1v6h-1zM173 995h1v6h-1zM174 1013h1v6h-1zM175 1013h1v6h-1zM176 1013h1v6h-1zM757 1037h1v5h-1zM760 1054h1v6h-1zM764 1048h1v12h-1zM768 995h1v6h-1zM793 1054h1v6h-1z"/>
<rect class="ax" x="138.5" y="852.5" width="712" height="235"/>
<path class="ax" d="M286.5 1087.5V1079M286.5 852.5V860M434.5 1087.5V1079M434.5 852.5V860M583.5 1087.5V1079M583.5 852.5V860M731.5 1087.5V1079M731.5 852.5V860M138.5 1028.5H146M850.5 1028.5H842M138.5 969.5H146M850.5 969.5H842M138.5 910.5H146M850.5 910.5H842"/>
<text x="138" y="1114.8" text-anchor="middle">0</text><text x="286.333" y="1114.8" text-anchor="middle">5</text><text x="434.667" y="1114.8" text-anchor="middle">10</text><text x="583" y="1114.8" text-anchor="middle">15</text><text x="731.333" y="1114.8" text-anchor="middle">20</text>
<text x="131.5" y="1095.4" text-anchor="end">0</text><text x="131.5" y="1036.4" text-anchor="end">2</text><text x="131.5" y="977.4" text-anchor="end">4</text><text x="131.5" y="918.4" text-anchor="end">6</text><text x="131.5" y="860.4" text-anchor="end">8</text>
<text class="l" x="493.2" y="1141.5" text-anchor="middle">Time, UTC</text>
<text class="l" transform="translate(109 971) rotate(-90)" text-anchor="middle">D, mm</text>
<text class="l"><tspan class="l" x="389.40" y="826.90">10log</tspan><tspan class="s" x="437.65" y="835.30" letter-spacing="-0.9">10</tspan><tspan class="l" x="456.85" y="826.90">[Z(D),</tspan><tspan class="l" x="515.45" y="826.90" letter-spacing="0.3">mm</tspan><tspan class="s" x="548.35" y="815.60">5</tspan><tspan class="l" x="561.75" y="826.90">m</tspan><tspan class="s" x="577.35" y="815.60">-3</tspan><tspan class="l" x="591.65" y="826.90">]</tspan></text>
<rect class="d" x="882.5" y="1084.81" width="41" height="4.29" fill="#000087"/><rect class="d" x="882.5" y="1081.12" width="41" height="4.29" fill="#000097"/><rect class="d" x="882.5" y="1077.44" width="41" height="4.29" fill="#0000a7"/><rect class="d" x="882.5" y="1073.75" width="41" height="4.29" fill="#0000b7"/><rect class="d" x="882.5" y="1070.06" width="41" height="4.29" fill="#0000c7"/><rect class="d" x="882.5" y="1066.38" width="41" height="4.29" fill="#0000d7"/><rect class="d" x="882.5" y="1062.69" width="41" height="4.29" fill="#0000e7"/><rect class="d" x="882.5" y="1059.00" width="41" height="4.29" fill="#0000f7"/><rect class="d" x="882.5" y="1055.31" width="41" height="4.29" fill="#0008ff"/><rect class="d" x="882.5" y="1051.62" width="41" height="4.29" fill="#0018ff"/><rect class="d" x="882.5" y="1047.94" width="41" height="4.29" fill="#0028ff"/><rect class="d" x="882.5" y="1044.25" width="41" height="4.29" fill="#0038ff"/><rect class="d" x="882.5" y="1040.56" width="41" height="4.29" fill="#0048ff"/><rect class="d" x="882.5" y="1036.88" width="41" height="4.29" fill="#0058ff"/><rect class="d" x="882.5" y="1033.19" width="41" height="4.29" fill="#0068ff"/><rect class="d" x="882.5" y="1029.50" width="41" height="4.29" fill="#0078ff"/><rect class="d" x="882.5" y="1025.81" width="41" height="4.29" fill="#0087ff"/><rect class="d" x="882.5" y="1022.12" width="41" height="4.29" fill="#0097ff"/><rect class="d" x="882.5" y="1018.44" width="41" height="4.29" fill="#00a7ff"/><rect class="d" x="882.5" y="1014.75" width="41" height="4.29" fill="#00b7ff"/><rect class="d" x="882.5" y="1011.06" width="41" height="4.29" fill="#00c7ff"/><rect class="d" x="882.5" y="1007.38" width="41" height="4.29" fill="#00d7ff"/><rect class="d" x="882.5" y="1003.69" width="41" height="4.29" fill="#00e7ff"/><rect class="d" x="882.5" y="1000.00" width="41" height="4.29" fill="#00f7ff"/><rect class="d" x="882.5" y="996.31" width="41" height="4.29" fill="#08fff7"/><rect class="d" x="882.5" y="992.62" width="41" height="4.29" fill="#18ffe7"/><rect class="d" x="882.5" y="988.94" width="41" height="4.29" fill="#28ffd7"/><rect class="d" x="882.5" y="985.25" width="41" height="4.29" fill="#38ffc7"/><rect class="d" x="882.5" y="981.56" width="41" height="4.29" fill="#48ffb7"/><rect class="d" x="882.5" y="977.88" width="41" height="4.29" fill="#58ffa7"/><rect class="d" x="882.5" y="974.19" width="41" height="4.29" fill="#68ff97"/><rect class="d" x="882.5" y="970.50" width="41" height="4.29" fill="#78ff87"/><rect class="d" x="882.5" y="966.81" width="41" height="4.29" fill="#87ff78"/><rect class="d" x="882.5" y="963.12" width="41" height="4.29" fill="#97ff68"/><rect class="d" x="882.5" y="959.44" width="41" height="4.29" fill="#a7ff58"/><rect class="d" x="882.5" y="955.75" width="41" height="4.29" fill="#b7ff48"/><rect class="d" x="882.5" y="952.06" width="41" height="4.29" fill="#c7ff38"/><rect class="d" x="882.5" y="948.38" width="41" height="4.29" fill="#d7ff28"/><rect class="d" x="882.5" y="944.69" width="41" height="4.29" fill="#e7ff18"/><rect class="d" x="882.5" y="941.00" width="41" height="4.29" fill="#f7ff08"/><rect class="d" x="882.5" y="937.31" width="41" height="4.29" fill="#fff700"/><rect class="d" x="882.5" y="933.62" width="41" height="4.29" fill="#ffe700"/><rect class="d" x="882.5" y="929.94" width="41" height="4.29" fill="#ffd700"/><rect class="d" x="882.5" y="926.25" width="41" height="4.29" fill="#ffc700"/><rect class="d" x="882.5" y="922.56" width="41" height="4.29" fill="#ffb700"/><rect class="d" x="882.5" y="918.88" width="41" height="4.29" fill="#ffa700"/><rect class="d" x="882.5" y="915.19" width="41" height="4.29" fill="#ff9700"/><rect class="d" x="882.5" y="911.50" width="41" height="4.29" fill="#ff8700"/><rect class="d" x="882.5" y="907.81" width="41" height="4.29" fill="#ff7800"/><rect class="d" x="882.5" y="904.12" width="41" height="4.29" fill="#ff6800"/><rect class="d" x="882.5" y="900.44" width="41" height="4.29" fill="#ff5800"/><rect class="d" x="882.5" y="896.75" width="41" height="4.29" fill="#ff4800"/><rect class="d" x="882.5" y="893.06" width="41" height="4.29" fill="#ff3800"/><rect class="d" x="882.5" y="889.38" width="41" height="4.29" fill="#ff2800"/><rect class="d" x="882.5" y="885.69" width="41" height="4.29" fill="#ff1800"/><rect class="d" x="882.5" y="882.00" width="41" height="4.29" fill="#ff0800"/><rect class="d" x="882.5" y="878.31" width="41" height="4.29" fill="#f70000"/><rect class="d" x="882.5" y="874.62" width="41" height="4.29" fill="#e70000"/><rect class="d" x="882.5" y="870.94" width="41" height="4.29" fill="#d70000"/><rect class="d" x="882.5" y="867.25" width="41" height="4.29" fill="#c70000"/><rect class="d" x="882.5" y="863.56" width="41" height="4.29" fill="#b70000"/><rect class="d" x="882.5" y="859.88" width="41" height="4.29" fill="#a70000"/><rect class="d" x="882.5" y="856.19" width="41" height="4.29" fill="#970000"/><rect class="d" x="882.5" y="852.50" width="41" height="4.29" fill="#870000"/>
<rect class="ax" x="882.5" y="852.5" width="41" height="236"/>
<text x="929" y="1096.3">0</text><text x="929" y="1043.3">10</text><text x="929" y="991.3">20</text><text x="929" y="938.3">30</text><text x="929" y="886.3">40</text>
<path class="ax" d="M882.5 1035.5h3M923.5 1035.5h-3M882.5 983.5h3M923.5 983.5h-3M882.5 930.5h3M923.5 930.5h-3M882.5 878.5h3M923.5 878.5h-3"/>
</g>
<g id="panel4">
<path class="d" fill="#000087" d="M139 1415h1v12h-1zM140 1415h1v18h-1zM141 1415h1v18h-1zM142 1415h1v18h-1zM143 1415h1v18h-1zM144 1415h1v18h-1zM145 1415h1v18h-1zM146 1415h1v18h-1zM147 1415h1v18h-1zM148 1415h1v18h-1zM149 1415h1v18h-1zM150 1415h1v18h-1zM151 1415h1v12h-1zM152 1415h1v18h-1zM153 1421h1v12h-1zM154 1415h1v6h-1zM155 1415h1v18h-1zM156 1415h1v12h-1zM157 1415h1v6h-1zM158 1415h1v12h-1zM159 1415h1v18h-1zM160 1415h1v18h-1zM161 1415h1v18h-1zM162 1415h1v18h-1zM163 1415h1v18h-1zM164 1415h1v18h-1zM165 1415h1v18h-1zM166 1415h1v18h-1zM167 1415h1v18h-1zM168 1415h1v18h-1zM169 1415h1v18h-1zM170 1415h1v18h-1zM171 1415h1v18h-1zM172 1415h1v18h-1zM173 1415h1v18h-1zM174 1415h1v18h-1zM175 1415h1v18h-1zM176 1415h1v18h-1zM177 1415h1v18h-1zM178 1415h1v18h-1zM179 1415h1v18h-1zM180 1415h1v18h-1zM181 1415h1v12h-1zM182 1415h1v6h-1zM183 1415h1v6h-1zM185 1415h1v6h-1zM186 1415h1v6h-1zM200 1421h1v6h-1zM202 1415h1v6h-1zM207 1415h1v12h-1zM208 1415h1v6h-1zM209 1415h1v12h-1zM210 1415h1v6h-1zM211 1415h1v18h-1zM212 1415h1v6h-1zM213 1415h1v12h-1zM214 1415h1v18h-1zM215 1415h1v12h-1zM216 1415h1v12h-1zM217 1415h1v12h-1zM218 1415h1v12h-1zM219 1415h1v12h-1zM220 1415h1v18h-1zM221 1415h1v12h-1zM222 1415h1v18h-1zM223 1415h1v12h-1zM224 1415h1v18h-1zM225 1415h1v18h-1zM226 1415h1v12h-1zM227 1415h1v12h-1zM228 1415h1v6h-1zM229 1415h1v12h-1zM230 1415h1v12h-1zM231 1421h1v6h-1zM232 1415h1v12h-1zM233 1415h1v6h-1zM239 1415h1v6h-1zM240 1415h1v6h-1zM241 1415h1v6h-1zM246 1415h1v6h-1zM247 1421h1v6h-1zM248 1415h1v12h-1zM251 1421h1v12h-1zM256 1415h1v6h-1zM258 1415h1v12h-1zM259 1415h1v12h-1zM260 1415h1v12h-1zM261 1415h1v6h-1zM262 1415h1v6h-1zM263 1421h1v12h-1zM269 1415h1v18h-1zM381 1421h1v6h-1zM398 1427h1v6h-1zM616 1421h1v12h-1zM689 1421h1v6h-1zM692 1427h1v6h-1zM694 1421h1v6h-1zM695 1421h1v6h-1zM757 1415h1v18h-1zM758 1415h1v18h-1zM759 1415h1v18h-1zM760 1415h1v18h-1zM761 1415h1v18h-1zM762 1415h1v18h-1zM763 1415h1v18h-1zM764 1415h1v18h-1zM765 1415h1v18h-1zM766 1415h1v18h-1zM767 1415h1v18h-1zM768 1415h1v18h-1zM769 1415h1v18h-1zM770 1415h1v18h-1zM771 1421h1v12h-1zM778 1415h1v12h-1zM779 1415h1v18h-1zM780 1421h1v6h-1zM781 1415h1v18h-1zM788 1415h1v18h-1zM789 1415h1v18h-1zM790 1415h1v18h-1zM791 1415h1v18h-1zM792 1415h1v18h-1zM793 1415h1v18h-1zM794 1415h1v12h-1zM795 1427h1v6h-1z"/>
<path class="d" fill="#000097" d="M139 1409h1v6h-1zM140 1409h1v6h-1zM142 1409h1v6h-1zM143 1409h1v6h-1zM144 1409h1v6h-1zM145 1409h1v6h-1zM146 1409h1v6h-1zM147 1409h1v6h-1zM148 1409h1v6h-1zM149 1409h1v6h-1zM150 1409h1v6h-1zM151 1409h1v6h-1zM152 1409h1v6h-1zM156 1409h1v6h-1zM159 1409h1v6h-1zM160 1409h1v6h-1zM161 1409h1v6h-1zM162 1409h1v6h-1zM163 1409h1v6h-1zM164 1409h1v6h-1zM165 1409h1v6h-1zM166 1409h1v6h-1zM167 1409h1v6h-1zM168 1409h1v6h-1zM169 1409h1v6h-1zM170 1409h1v6h-1zM171 1409h1v6h-1zM172 1409h1v6h-1zM173 1409h1v6h-1zM174 1409h1v6h-1zM175 1409h1v6h-1zM176 1409h1v6h-1zM177 1409h1v6h-1zM178 1409h1v6h-1zM179 1409h1v6h-1zM180 1409h1v6h-1zM181 1409h1v6h-1zM200 1409h1v6h-1zM208 1409h1v6h-1zM210 1409h1v6h-1zM211 1409h1v6h-1zM212 1409h1v6h-1zM213 1409h1v6h-1zM214 1409h1v6h-1zM215 1409h1v6h-1zM216 1409h1v6h-1zM217 1409h1v6h-1zM218 1409h1v6h-1zM219 1409h1v6h-1zM220 1409h1v6h-1zM221 1409h1v6h-1zM222 1409h1v6h-1zM223 1409h1v6h-1zM224 1409h1v6h-1zM225 1409h1v6h-1zM226 1409h1v6h-1zM227 1409h1v6h-1zM228 1409h1v6h-1zM229 1409h1v6h-1zM230 1409h1v6h-1zM231 1409h1v6h-1zM233 1409h1v6h-1zM240 1409h1v6h-1zM241 1409h1v6h-1zM245 1409h1v6h-1zM256 1409h1v6h-1zM258 1409h1v6h-1zM260 1409h1v6h-1zM263 1409h1v6h-1zM599 1409h1v6h-1zM681 1409h1v6h-1zM757 1409h1v6h-1zM758 1409h1v6h-1zM759 1409h1v6h-1zM760 1409h1v6h-1zM761 1409h1v6h-1zM762 1409h1v6h-1zM763 1409h1v6h-1zM764 1409h1v6h-1zM765 1409h1v6h-1zM767 1409h1v6h-1zM768 1409h1v6h-1zM769 1409h1v6h-1zM770 1409h1v6h-1zM778 1409h1v6h-1zM779 1409h1v6h-1zM781 1409h1v6h-1zM788 1409h1v6h-1zM789 1409h1v6h-1zM790 1409h1v6h-1zM791 1409h1v6h-1zM792 1409h1v6h-1zM793 1409h1v6h-1z"/>
<path class="d" fill="#0000a7" d="M139 1403h1v6h-1zM140 1403h1v6h-1zM141 1403h1v6h-1zM142 1403h1v6h-1zM143 1403h1v6h-1zM144 1403h1v6h-1zM145 1403h1v6h-1zM146 1403h1v6h-1zM147 1403h1v6h-1zM148 1403h1v6h-1zM149 1403h1v6h-1zM151 1403h1v6h-1zM155 1403h1v6h-1zM159 1403h1v6h-1zM160 1403h1v6h-1zM161 1403h1v6h-1zM162 1403h1v6h-1zM163 1403h1v6h-1zM164 1403h1v6h-1zM165 1403h1v6h-1zM166 1403h1v6h-1zM167 1403h1v6h-1zM168 1403h1v6h-1zM169 1403h1v6h-1zM170 1403h1v6h-1zM171 1403h1v6h-1zM172 1403h1v6h-1zM173 1403h1v6h-1zM174 1403h1v6h-1zM175 1403h1v6h-1zM176 1403h1v6h-1zM177 1403h1v6h-1zM178 1403h1v6h-1zM179 1403h1v6h-1zM180 1403h1v6h-1zM185 1403h1v6h-1zM208 1403h1v6h-1zM209 1403h1v6h-1zM210 1403h1v6h-1zM211 1403h1v6h-1zM212 1403h1v6h-1zM213 1403h1v6h-1zM214 1403h1v6h-1zM215 1403h1v6h-1zM216 1403h1v6h-1zM217 1403h1v6h-1zM218 1403h1v6h-1zM219 1403h1v6h-1zM220 1403h1v6h-1zM221 1403h1v6h-1zM222 1403h1v6h-1zM223 1403h1v6h-1zM224 1403h1v6h-1zM225 1403h1v6h-1zM226 1403h1v6h-1zM598 1403h1v6h-1zM599 1403h1v6h-1zM757 1403h1v6h-1zM758 1403h1v6h-1zM759 1403h1v6h-1zM760 1403h1v6h-1zM761 1403h1v6h-1zM762 1403h1v6h-1zM763 1403h1v6h-1zM764 1403h1v6h-1zM765 1403h1v6h-1zM767 1403h1v6h-1zM768 1403h1v6h-1zM779 1403h1v6h-1zM781 1403h1v6h-1zM788 1403h1v6h-1zM789 1403h1v6h-1zM790 1403h1v6h-1zM791 1403h1v6h-1zM792 1403h1v6h-1zM793 1403h1v6h-1z"/>
<path class="d" fill="#0000c7" d="M141 1397h1v6h-1zM142 1397h1v6h-1zM143 1397h1v6h-1zM144 1397h1v6h-1zM145 1397h1v6h-1zM146 1397h1v6h-1zM147 1397h1v6h-1zM148 1397h1v6h-1zM149 1397h1v6h-1zM158 1397h1v6h-1zM160 1397h1v6h-1zM161 1397h1v6h-1zM162 1397h1v6h-1zM163 1397h1v6h-1zM164 1397h1v6h-1zM165 1397h1v6h-1zM166 1397h1v6h-1zM167 1397h1v6h-1zM168 1397h1v6h-1zM169 1397h1v6h-1zM170 1397h1v6h-1zM171 1397h1v6h-1zM172 1397h1v6h-1zM173 1397h1v6h-1zM174 1397h1v6h-1zM175 1397h1v6h-1zM176 1397h1v6h-1zM177 1397h1v6h-1zM178 1397h1v6h-1zM179 1397h1v6h-1zM180 1397h1v6h-1zM207 1397h1v6h-1zM209 1397h1v6h-1zM210 1397h1v6h-1zM211 1397h1v6h-1zM212 1397h1v6h-1zM213 1397h1v6h-1zM214 1397h1v6h-1zM215 1397h1v6h-1zM216 1397h1v6h-1zM217 1397h1v6h-1zM218 1397h1v6h-1zM219 1397h1v6h-1zM220 1397h1v6h-1zM221 1397h1v6h-1zM222 1397h1v6h-1zM223 1397h1v6h-1zM224 1397h1v6h-1zM225 1397h1v6h-1zM226 1397h1v6h-1zM597 1397h1v6h-1zM598 1397h1v6h-1zM757 1397h1v6h-1zM758 1397h1v6h-1zM759 1397h1v6h-1zM760 1397h1v6h-1zM761 1397h1v6h-1zM762 1397h1v6h-1zM763 1397h1v6h-1zM764 1397h1v6h-1zM765 1397h1v6h-1zM768 1397h1v6h-1zM769 1397h1v6h-1zM779 1397h1v6h-1zM780 1397h1v6h-1zM788 1397h1v6h-1zM789 1397h1v6h-1zM790 1397h1v6h-1zM791 1397h1v6h-1zM792 1397h1v6h-1zM793 1397h1v6h-1z"/>
<path class="d" fill="#0000f7" d="M141 1392h1v5h-1zM142 1392h1v5h-1zM144 1392h1v5h-1zM146 1392h1v5h-1zM147 1392h1v5h-1zM148 1392h1v5h-1zM158 1392h1v5h-1zM159 1392h1v5h-1zM160 1392h1v5h-1zM161 1392h1v5h-1zM162 1392h1v5h-1zM163 1392h1v5h-1zM164 1392h1v5h-1zM165 1392h1v5h-1zM166 1392h1v5h-1zM167 1392h1v5h-1zM168 1392h1v5h-1zM169 1392h1v5h-1zM170 1392h1v5h-1zM171 1392h1v5h-1zM172 1392h1v5h-1zM173 1392h1v5h-1zM174 1392h1v5h-1zM175 1392h1v5h-1zM176 1392h1v5h-1zM177 1392h1v5h-1zM178 1392h1v5h-1zM179 1392h1v5h-1zM180 1392h1v5h-1zM209 1392h1v5h-1zM210 1392h1v5h-1zM212 1392h1v5h-1zM213 1392h1v5h-1zM214 1392h1v5h-1zM215 1392h1v5h-1zM217 1392h1v5h-1zM218 1392h1v5h-1zM219 1392h1v5h-1zM220 1392h1v5h-1zM224 1392h1v5h-1zM597 1392h1v5h-1zM598 1392h1v5h-1zM757 1392h1v5h-1zM760 1392h1v5h-1zM761 1392h1v5h-1zM762 1392h1v5h-1zM763 1392h1v5h-1zM764 1392h1v5h-1zM765 1392h1v5h-1zM768 1392h1v5h-1zM769 1392h1v5h-1zM778 1392h1v5h-1zM779 1392h1v5h-1zM788 1392h1v5h-1zM789 1392h1v5h-1zM790 1392h1v5h-1zM791 1392h1v5h-1zM792 1392h1v5h-1zM793 1392h1v5h-1z"/>
<path class="d" fill="#0008ff" d="M147 1386h1v6h-1zM159 1386h1v6h-1zM160 1386h1v6h-1zM161 1386h1v6h-1zM162 1386h1v6h-1zM163 1386h1v6h-1zM164 1386h1v6h-1zM165 1386h1v6h-1zM166 1386h1v6h-1zM167 1386h1v6h-1zM168 1386h1v6h-1zM169 1386h1v6h-1zM170 1386h1v6h-1zM171 1386h1v6h-1zM172 1386h1v6h-1zM173 1386h1v6h-1zM174 1386h1v6h-1zM175 1386h1v6h-1zM176 1386h1v6h-1zM177 1386h1v6h-1zM178 1386h1v6h-1zM214 1386h1v6h-1zM216 1386h1v6h-1zM221 1386h1v6h-1zM226 1386h1v6h-1zM597 1386h1v6h-1zM757 1386h1v6h-1zM760 1386h1v6h-1zM761 1386h1v6h-1zM762 1386h1v6h-1zM763 1386h1v6h-1zM764 1386h1v6h-1zM768 1386h1v6h-1zM769 1386h1v6h-1zM778 1386h1v6h-1zM779 1386h1v6h-1zM787 1386h1v6h-1zM788 1386h1v6h-1zM789 1386h1v6h-1zM790 1386h1v6h-1zM791 1386h1v6h-1zM792 1386h1v6h-1z"/>
<path class="d" fill="#0038ff" d="M159 1380h1v6h-1zM160 1380h1v6h-1zM161 1380h1v6h-1zM162 1380h1v6h-1zM163 1380h1v6h-1zM164 1380h1v6h-1zM165 1380h1v6h-1zM166 1380h1v6h-1zM167 1380h1v6h-1zM168 1380h1v6h-1zM169 1380h1v6h-1zM170 1380h1v6h-1zM171 1380h1v6h-1zM172 1380h1v6h-1zM173 1380h1v6h-1zM174 1380h1v6h-1zM175 1380h1v6h-1zM176 1380h1v6h-1zM177 1380h1v6h-1zM178 1380h1v6h-1zM210 1380h1v6h-1zM216 1380h1v6h-1zM597 1380h1v6h-1zM757 1380h1v6h-1zM760 1380h1v6h-1zM761 1380h1v6h-1zM762 1380h1v6h-1zM763 1380h1v6h-1zM764 1380h1v6h-1zM768 1380h1v6h-1zM769 1380h1v6h-1zM778 1380h1v6h-1zM779 1380h1v6h-1zM788 1380h1v6h-1zM789 1380h1v6h-1zM790 1380h1v6h-1zM791 1380h1v6h-1zM792 1380h1v6h-1z"/>
<path class="d" fill="#0068ff" d="M159 1374h1v6h-1zM160 1374h1v6h-1zM161 1374h1v6h-1zM162 1374h1v6h-1zM163 1374h1v6h-1zM164 1374h1v6h-1zM165 1374h1v6h-1zM166 1374h1v6h-1zM167 1374h1v6h-1zM168 1374h1v6h-1zM169 1374h1v6h-1zM170 1374h1v6h-1zM171 1374h1v6h-1zM172 1374h1v6h-1zM173 1374h1v6h-1zM174 1374h1v6h-1zM175 1374h1v6h-1zM176 1374h1v6h-1zM177 1374h1v6h-1zM212 1374h1v6h-1zM216 1374h1v6h-1zM597 1374h1v6h-1zM757 1374h1v6h-1zM760 1374h1v6h-1zM761 1374h1v6h-1zM762 1374h1v6h-1zM763 1374h1v6h-1zM764 1374h1v6h-1zM768 1374h1v6h-1zM778 1374h1v6h-1zM788 1374h1v6h-1zM789 1374h1v6h-1zM790 1374h1v6h-1zM791 1374h1v6h-1zM792 1374h1v6h-1z"/>
<path class="d" fill="#0097ff" d="M158 1368h1v6h-1zM160 1368h1v6h-1zM161 1368h1v6h-1zM162 1368h1v6h-1zM163 1368h1v6h-1zM164 1368h1v6h-1zM165 1368h1v6h-1zM166 1368h1v6h-1zM167 1368h1v6h-1zM168 1368h1v6h-1zM170 1368h1v6h-1zM171 1368h1v6h-1zM172 1368h1v6h-1zM173 1368h1v6h-1zM174 1368h1v6h-1zM175 1368h1v6h-1zM176 1368h1v6h-1zM177 1368h1v6h-1zM178 1368h1v6h-1zM760 1368h1v6h-1zM761 1368h1v6h-1zM762 1368h1v6h-1zM763 1368h1v6h-1zM764 1368h1v6h-1zM768 1368h1v6h-1zM778 1368h1v6h-1zM781 1368h1v6h-1zM788 1368h1v6h-1zM789 1368h1v6h-1zM790 1368h1v6h-1zM791 1368h1v6h-1zM792 1368h1v6h-1z"/>
<path class="d" fill="#00e7ff" d="M141 1362h1v6h-1zM159 1362h1v6h-1zM160 1362h1v6h-1zM161 1362h1v6h-1zM162 1362h1v6h-1zM163 1362h1v6h-1zM164 1362h1v6h-1zM165 1362h1v6h-1zM166 1362h1v6h-1zM167 1362h1v6h-1zM168 1362h1v6h-1zM169 1362h1v6h-1zM170 1362h1v6h-1zM171 1362h1v6h-1zM172 1362h1v6h-1zM173 1362h1v6h-1zM174 1362h1v6h-1zM176 1362h1v6h-1zM760 1362h1v6h-1zM761 1362h1v6h-1zM762 1362h1v6h-1zM763 1362h1v6h-1zM764 1362h1v6h-1zM768 1362h1v6h-1zM778 1362h1v6h-1zM779 1362h1v6h-1zM781 1362h1v6h-1zM788 1362h1v6h-1zM789 1362h1v6h-1zM790 1362h1v6h-1zM791 1362h1v6h-1zM792 1362h1v6h-1z"/>
<path class="d" fill="#28ffd7" d="M141 1356h1v6h-1zM161 1356h1v6h-1zM162 1356h1v6h-1zM163 1356h1v6h-1zM167 1356h1v6h-1zM170 1356h1v6h-1zM171 1356h1v6h-1zM172 1356h1v6h-1zM760 1356h1v6h-1zM761 1356h1v6h-1zM762 1356h1v6h-1zM763 1356h1v6h-1zM764 1356h1v6h-1zM768 1356h1v6h-1zM778 1356h1v6h-1zM781 1356h1v6h-1zM788 1356h1v6h-1zM789 1356h1v6h-1zM790 1356h1v6h-1zM791 1356h1v6h-1zM792 1356h1v6h-1z"/>
<path class="d" fill="#78ff87" d="M141 1350h1v6h-1zM161 1350h1v6h-1zM162 1350h1v6h-1zM163 1350h1v6h-1zM164 1350h1v6h-1zM167 1350h1v6h-1zM168 1350h1v6h-1zM170 1350h1v6h-1zM171 1350h1v6h-1zM172 1350h1v6h-1zM173 1350h1v6h-1zM760 1350h1v6h-1zM761 1350h1v6h-1zM762 1350h1v6h-1zM763 1350h1v6h-1zM764 1350h1v6h-1zM768 1350h1v6h-1zM778 1350h1v6h-1zM779 1350h1v6h-1zM788 1350h1v6h-1zM789 1350h1v6h-1zM790 1350h1v6h-1zM791 1350h1v6h-1zM792 1350h1v6h-1z"/>
<path class="d" fill="#870000" d="M762 1274h1v24h-1zM779 1298h1v5h-1zM788 1292h1v11h-1zM789 1292h1v11h-1zM791 1262h1v6h-1zM792 1280h1v23h-1zM792 1262h1v6h-1zM792 1245h1v11h-1zM793 1298h1v5h-1zM793 1268h1v6h-1zM793 1215h1v6h-1z"/>
<path class="d" fill="#970000" d="M762 1303h1v6h-1zM789 1303h1v6h-1zM790 1303h1v6h-1zM792 1303h1v6h-1z"/>
<path class="d" fill="#b7ff48" d="M141 1345h1v5h-1zM161 1345h1v5h-1zM162 1345h1v5h-1zM163 1345h1v5h-1zM165 1345h1v5h-1zM166 1345h1v5h-1zM167 1345h1v5h-1zM171 1345h1v5h-1zM172 1345h1v5h-1zM760 1345h1v5h-1zM761 1345h1v5h-1zM762 1345h1v5h-1zM763 1345h1v5h-1zM764 1345h1v5h-1zM768 1345h1v5h-1zM788 1345h1v5h-1zM789 1345h1v5h-1zM790 1345h1v5h-1zM791 1345h1v5h-1zM792 1345h1v5h-1z"/>
<path class="d" fill="#d70000" d="M762 1309h1v6h-1zM788 1309h1v6h-1zM789 1309h1v6h-1zM790 1309h1v6h-1zM791 1309h1v6h-1zM792 1309h1v6h-1z"/>
<path class="d" fill="#f7ff08" d="M161 1339h1v6h-1zM162 1339h1v6h-1zM166 1339h1v6h-1zM170 1339h1v6h-1zM172 1339h1v6h-1zM761 1339h1v6h-1zM762 1339h1v6h-1zM763 1339h1v6h-1zM764 1339h1v6h-1zM768 1339h1v6h-1zM781 1339h1v6h-1zM788 1339h1v6h-1zM789 1339h1v6h-1zM790 1339h1v6h-1zM791 1339h1v6h-1zM792 1339h1v6h-1z"/>
<path class="d" fill="#ff0800" d="M162 1315h1v6h-1zM762 1315h1v6h-1zM763 1315h1v6h-1zM788 1315h1v6h-1zM789 1315h1v6h-1zM790 1315h1v6h-1zM791 1315h1v6h-1zM792 1315h1v6h-1zM793 1315h1v6h-1z"/>
<path class="d" fill="#ff4800" d="M161 1321h1v6h-1zM162 1321h1v6h-1zM166 1321h1v6h-1zM167 1321h1v6h-1zM762 1321h1v6h-1zM763 1321h1v6h-1zM788 1321h1v6h-1zM789 1321h1v6h-1zM790 1321h1v6h-1zM791 1321h1v6h-1zM792 1321h1v6h-1zM793 1321h1v6h-1z"/>
<path class="d" fill="#ff9700" d="M162 1327h1v6h-1zM761 1327h1v6h-1zM762 1327h1v6h-1zM763 1327h1v6h-1zM788 1327h1v6h-1zM789 1327h1v6h-1zM790 1327h1v6h-1zM791 1327h1v6h-1zM792 1327h1v6h-1z"/>
<path class="d" fill="#ffd700" d="M162 1333h1v6h-1zM172 1333h1v6h-1zM761 1333h1v6h-1zM762 1333h1v6h-1zM763 1333h1v6h-1zM764 1333h1v6h-1zM768 1333h1v6h-1zM788 1333h1v6h-1zM789 1333h1v6h-1zM790 1333h1v6h-1zM791 1333h1v6h-1zM792 1333h1v6h-1z"/>
<rect class="ax" x="138.5" y="1207.5" width="712" height="235"/>
<path class="ax" d="M286.5 1442.5V1434M286.5 1207.5V1215M434.5 1442.5V1434M434.5 1207.5V1215M583.5 1442.5V1434M583.5 1207.5V1215M731.5 1442.5V1434M731.5 1207.5V1215M138.5 1383.5H146M850.5 1383.5H842M138.5 1324.5H146M850.5 1324.5H842M138.5 1265.5H146M850.5 1265.5H842"/>
<text x="138" y="1469.8" text-anchor="middle">0</text><text x="286.333" y="1469.8" text-anchor="middle">5</text><text x="434.667" y="1469.8" text-anchor="middle">10</text><text x="583" y="1469.8" text-anchor="middle">15</text><text x="731.333" y="1469.8" text-anchor="middle">20</text>
<text x="131.5" y="1450.4" text-anchor="end">0</text><text x="131.5" y="1391.4" text-anchor="end">2</text><text x="131.5" y="1332.4" text-anchor="end">4</text><text x="131.5" y="1273.4" text-anchor="end">6</text><text x="131.5" y="1215.4" text-anchor="end">8</text>
<text class="l" x="493.2" y="1496.5" text-anchor="middle">Time, UTC</text>
<text class="l" transform="translate(109 1326) rotate(-90)" text-anchor="middle">D, mm</text>
<text class="l"><tspan class="l" x="445.20" y="1181.90">Z</tspan><tspan class="s" x="456.55" y="1190.30" letter-spacing="0.5">DR</tspan><tspan class="l" x="479.95" y="1181.90">(D),</tspan><tspan class="l" x="517.45" y="1181.90" letter-spacing="0.3">dB</tspan></text>
<rect class="d" x="882.5" y="1439.81" width="41" height="4.29" fill="#000087"/><rect class="d" x="882.5" y="1436.12" width="41" height="4.29" fill="#000097"/><rect class="d" x="882.5" y="1432.44" width="41" height="4.29" fill="#0000a7"/><rect class="d" x="882.5" y="1428.75" width="41" height="4.29" fill="#0000b7"/><rect class="d" x="882.5" y="1425.06" width="41" height="4.29" fill="#0000c7"/><rect class="d" x="882.5" y="1421.38" width="41" height="4.29" fill="#0000d7"/><rect class="d" x="882.5" y="1417.69" width="41" height="4.29" fill="#0000e7"/><rect class="d" x="882.5" y="1414.00" width="41" height="4.29" fill="#0000f7"/><rect class="d" x="882.5" y="1410.31" width="41" height="4.29" fill="#0008ff"/><rect class="d" x="882.5" y="1406.62" width="41" height="4.29" fill="#0018ff"/><rect class="d" x="882.5" y="1402.94" width="41" height="4.29" fill="#0028ff"/><rect class="d" x="882.5" y="1399.25" width="41" height="4.29" fill="#0038ff"/><rect class="d" x="882.5" y="1395.56" width="41" height="4.29" fill="#0048ff"/><rect class="d" x="882.5" y="1391.88" width="41" height="4.29" fill="#0058ff"/><rect class="d" x="882.5" y="1388.19" width="41" height="4.29" fill="#0068ff"/><rect class="d" x="882.5" y="1384.50" width="41" height="4.29" fill="#0078ff"/><rect class="d" x="882.5" y="1380.81" width="41" height="4.29" fill="#0087ff"/><rect class="d" x="882.5" y="1377.12" width="41" height="4.29" fill="#0097ff"/><rect class="d" x="882.5" y="1373.44" width="41" height="4.29" fill="#00a7ff"/><rect class="d" x="882.5" y="1369.75" width="41" height="4.29" fill="#00b7ff"/><rect class="d" x="882.5" y="1366.06" width="41" height="4.29" fill="#00c7ff"/><rect class="d" x="882.5" y="1362.38" width="41" height="4.29" fill="#00d7ff"/><rect class="d" x="882.5" y="1358.69" width="41" height="4.29" fill="#00e7ff"/><rect class="d" x="882.5" y="1355.00" width="41" height="4.29" fill="#00f7ff"/><rect class="d" x="882.5" y="1351.31" width="41" height="4.29" fill="#08fff7"/><rect class="d" x="882.5" y="1347.62" width="41" height="4.29" fill="#18ffe7"/><rect class="d" x="882.5" y="1343.94" width="41" height="4.29" fill="#28ffd7"/><rect class="d" x="882.5" y="1340.25" width="41" height="4.29" fill="#38ffc7"/><rect class="d" x="882.5" y="1336.56" width="41" height="4.29" fill="#48ffb7"/><rect class="d" x="882.5" y="1332.88" width="41" height="4.29" fill="#58ffa7"/><rect class="d" x="882.5" y="1329.19" width="41" height="4.29" fill="#68ff97"/><rect class="d" x="882.5" y="1325.50" width="41" height="4.29" fill="#78ff87"/><rect class="d" x="882.5" y="1321.81" width="41" height="4.29" fill="#87ff78"/><rect class="d" x="882.5" y="1318.12" width="41" height="4.29" fill="#97ff68"/><rect class="d" x="882.5" y="1314.44" width="41" height="4.29" fill="#a7ff58"/><rect class="d" x="882.5" y="1310.75" width="41" height="4.29" fill="#b7ff48"/><rect class="d" x="882.5" y="1307.06" width="41" height="4.29" fill="#c7ff38"/><rect class="d" x="882.5" y="1303.38" width="41" height="4.29" fill="#d7ff28"/><rect class="d" x="882.5" y="1299.69" width="41" height="4.29" fill="#e7ff18"/><rect class="d" x="882.5" y="1296.00" width="41" height="4.29" fill="#f7ff08"/><rect class="d" x="882.5" y="1292.31" width="41" height="4.29" fill="#fff700"/><rect class="d" x="882.5" y="1288.62" width="41" height="4.29" fill="#ffe700"/><rect class="d" x="882.5" y="1284.94" width="41" height="4.29" fill="#ffd700"/><rect class="d" x="882.5" y="1281.25" width="41" height="4.29" fill="#ffc700"/><rect class="d" x="882.5" y="1277.56" width="41" height="4.29" fill="#ffb700"/><rect class="d" x="882.5" y="1273.88" width="41" height="4.29" fill="#ffa700"/><rect class="d" x="882.5" y="1270.19" width="41" height="4.29" fill="#ff9700"/><rect class="d" x="882.5" y="1266.50" width="41" height="4.29" fill="#ff8700"/><rect class="d" x="882.5" y="1262.81" width="41" height="4.29" fill="#ff7800"/><rect class="d" x="882.5" y="1259.12" width="41" height="4.29" fill="#ff6800"/><rect class="d" x="882.5" y="1255.44" width="41" height="4.29" fill="#ff5800"/><rect class="d" x="882.5" y="1251.75" width="41" height="4.29" fill="#ff4800"/><rect class="d" x="882.5" y="1248.06" width="41" height="4.29" fill="#ff3800"/><rect class="d" x="882.5" y="1244.38" width="41" height="4.29" fill="#ff2800"/><rect class="d" x="882.5" y="1240.69" width="41" height="4.29" fill="#ff1800"/><rect class="d" x="882.5" y="1237.00" width="41" height="4.29" fill="#ff0800"/><rect class="d" x="882.5" y="1233.31" width="41" height="4.29" fill="#f70000"/><rect class="d" x="882.5" y="1229.62" width="41" height="4.29" fill="#e70000"/><rect class="d" x="882.5" y="1225.94" width="41" height="4.29" fill="#d70000"/><rect class="d" x="882.5" y="1222.25" width="41" height="4.29" fill="#c70000"/><rect class="d" x="882.5" y="1218.56" width="41" height="4.29" fill="#b70000"/><rect class="d" x="882.5" y="1214.88" width="41" height="4.29" fill="#a70000"/><rect class="d" x="882.5" y="1211.19" width="41" height="4.29" fill="#970000"/><rect class="d" x="882.5" y="1207.50" width="41" height="4.29" fill="#870000"/>
<rect class="ax" x="882.5" y="1207.5" width="41" height="236"/>
<text x="929" y="1451.3">0</text><text x="929" y="1372.3">1</text><text x="929" y="1293.3">2</text><text x="929" y="1215.3">3</text>
<path class="ax" d="M882.5 1364.5h3M923.5 1364.5h-3M882.5 1285.5h3M923.5 1285.5h-3"/>
</g>
</svg>
</body></html>
